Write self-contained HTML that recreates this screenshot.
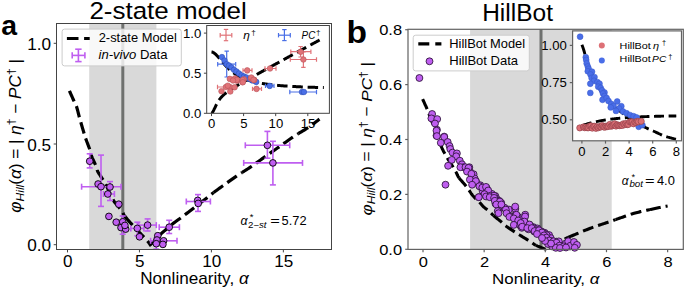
<!DOCTYPE html><html><head><meta charset="utf-8"><title>phi Hill vs nonlinearity</title><style>html,body{margin:0;padding:0;background:#fff;overflow:hidden}svg{display:block}text{font-family:"Liberation Sans", sans-serif;fill:#000}</style></head><body>
<svg width="685" height="289" viewBox="0 0 685 289">
<rect x="0" y="0" width="685" height="289" fill="#fff"/>
<rect x="89.2" y="23.5" width="67.2" height="226.0" fill="#d9d9d9"/>
<line x1="122.8" y1="23.5" x2="122.8" y2="249.5" stroke="#6f716f" stroke-width="3"/>
<path d="M69.4 90.8 L69.68 91.42 L70.04 92.24 L70.48 93.22 L70.96 94.31 L71.48 95.48 L72.01 96.68 L72.54 97.86 L73.04 98.99 L73.5 100.01 L73.9 100.9 L74.24 101.64 L74.55 102.27 L74.84 102.83 L75.1 103.34 L75.36 103.82 L75.6 104.3 L75.84 104.82 L76.08 105.39 L76.33 106.04 L76.6 106.8 L76.88 107.69 L77.17 108.69 L77.46 109.77 L77.76 110.91 L78.06 112.08 L78.35 113.25 L78.63 114.4 L78.9 115.49 L79.16 116.5 L79.4 117.4 L79.61 118.18 L79.8 118.85 L79.97 119.45 L80.13 119.99 L80.28 120.51 L80.43 121.02 L80.6 121.56 L80.77 122.16 L80.97 122.83 L81.2 123.6 L81.46 124.5 L81.76 125.5 L82.07 126.58 L82.4 127.72 L82.74 128.88 L83.08 130.03 L83.42 131.16 L83.74 132.23 L84.03 133.22 L84.3 134.1 L84.53 134.85 L84.73 135.49 L84.9 136.05 L85.06 136.55 L85.21 137.02 L85.36 137.49 L85.53 137.98 L85.72 138.53 L85.94 139.16 L86.2 139.9 L86.51 140.76 L86.87 141.72 L87.27 142.76 L87.68 143.85 L88.11 144.97 L88.54 146.09 L88.95 147.19 L89.34 148.24 L89.7 149.22 L90 150.1 L90.24 150.87 L90.43 151.55 L90.57 152.15 L90.69 152.71 L90.8 153.24 L90.91 153.78 L91.04 154.34 L91.21 154.95 L91.42 155.63 L91.7 156.4 L92.06 157.29 L92.48 158.29 L92.96 159.36 L93.47 160.48 L94 161.62 L94.53 162.76 L95.04 163.86 L95.52 164.9 L95.94 165.86 L96.3 166.7 L96.57 167.41 L96.76 168 L96.89 168.5 L96.98 168.94 L97.06 169.35 L97.15 169.76 L97.27 170.18 L97.43 170.67 L97.67 171.23 L98 171.9 L98.43 172.68 L98.96 173.56 L99.55 174.49 L100.19 175.48 L100.86 176.5 L101.54 177.53 L102.21 178.55 L102.86 179.55 L103.46 180.51 L104 181.4 L104.48 182.24 L104.94 183.04 L105.37 183.83 L105.77 184.59 L106.16 185.33 L106.54 186.07 L106.91 186.79 L107.27 187.52 L107.63 188.26 L108 189 L108.37 189.76 L108.72 190.52 L109.07 191.29 L109.42 192.06 L109.76 192.83 L110.09 193.58 L110.42 194.32 L110.75 195.04 L111.07 195.73 L111.4 196.4 L111.7 197.02 L111.97 197.59 L112.22 198.11 L112.46 198.62 L112.71 199.12 L112.98 199.62 L113.28 200.15 L113.62 200.71 L114.03 201.32 L114.5 202 L115.07 202.76 L115.74 203.59 L116.48 204.48 L117.28 205.41 L118.09 206.35 L118.91 207.29 L119.7 208.22 L120.45 209.11 L121.12 209.94 L121.7 210.7 L122.16 211.37 L122.53 211.97 L122.82 212.51 L123.07 213.02 L123.29 213.51 L123.51 213.99 L123.76 214.5 L124.06 215.04 L124.43 215.63 L124.9 216.3" fill="none" stroke="#000" stroke-width="3.2" stroke-dasharray="11.6 5.2"/>
<path d="M124.9 216.3 L125.48 217.05 L126.16 217.88 L126.9 218.77 L127.69 219.69 L128.51 220.63 L129.34 221.57 L130.15 222.48 L130.93 223.36 L131.65 224.17 L132.3 224.9 L132.86 225.54 L133.35 226.11 L133.8 226.61 L134.21 227.08 L134.6 227.53 L134.99 227.96 L135.4 228.41 L135.85 228.89 L136.34 229.41 L136.9 230 L137.54 230.66 L138.26 231.38 L139.02 232.14 L139.82 232.93 L140.64 233.73 L141.45 234.53 L142.24 235.31 L142.99 236.06 L143.69 236.76 L144.3 237.4 L144.85 237.98 L145.35 238.53 L145.82 239.05 L146.25 239.53 L146.64 239.99 L147.01 240.43 L147.36 240.85 L147.69 241.25 L148 241.63 L148.3 242 L148.58 242.36 L148.84 242.7 L149.08 243.03 L149.3 243.35 L149.5 243.64 L149.68 243.91 L149.84 244.15 L149.98 244.36 L150.1 244.55 L150.2 244.7 L150.48 244.46 L150.84 244.16 L151.26 243.81 L151.73 243.42 L152.24 242.99 L152.78 242.53 L153.34 242.05 L153.91 241.54 L154.46 241.02 L155 240.5 L155.54 239.95 L156.09 239.35 L156.66 238.71 L157.23 238.05 L157.82 237.38 L158.41 236.71 L158.99 236.04 L159.57 235.39 L160.14 234.77 L160.7 234.2 L161.24 233.67 L161.77 233.17 L162.29 232.69 L162.81 232.23 L163.32 231.79 L163.83 231.35 L164.36 230.9 L164.89 230.45 L165.44 229.99 L166 229.5 L166.57 229 L167.12 228.52 L167.66 228.03 L168.22 227.53 L168.79 227.03 L169.38 226.51 L170.01 225.98 L170.68 225.42 L171.41 224.83 L172.2 224.2 L173.04 223.55 L173.91 222.89 L174.82 222.22 L175.78 221.53 L176.77 220.81 L177.81 220.05 L178.9 219.26 L180.04 218.43 L181.24 217.54 L182.5 216.6 L183.84 215.59 L185.26 214.52 L186.76 213.38 L188.32 212.21 L189.91 210.99 L191.54 209.76 L193.17 208.51 L194.8 207.26 L196.42 206.02 L198 204.8 L199.59 203.57 L201.21 202.3 L202.86 201 L204.52 199.69 L206.17 198.39 L207.79 197.11 L209.37 195.86 L210.9 194.67 L212.34 193.54 L213.7 192.5" fill="none" stroke="#000" stroke-width="3.2" stroke-dasharray="11.6 5.2"/>
<path d="M213.7 192.5 L214.94 191.56 L216.06 190.71 L217.1 189.94 L218.08 189.22 L219.02 188.54 L219.95 187.87 L220.9 187.19 L221.89 186.48 L222.95 185.72 L224.1 184.9 L225.34 184.01 L226.64 183.08 L227.99 182.12 L229.37 181.14 L230.78 180.14 L232.21 179.13 L233.65 178.12 L235.08 177.13 L236.5 176.15 L237.9 175.2 L239.28 174.28 L240.66 173.38 L242.04 172.49" fill="none" stroke="#000" stroke-width="3.2" stroke-dasharray="11.6 5.2"/>
<path d="M242.04 172.49 L243.42 171.62 L244.81 170.74 L246.19 169.87 L247.58 168.98 L248.98 168.08 L250.39 167.15 L251.8 166.2 L253.23 165.21 L254.67 164.2 L256.12 163.16 L257.59 162.11 L259.05 161.04 L260.51 159.98 L261.98 158.91 L263.43 157.86 L264.87 156.82 L266.3 155.8 L267.72 154.8 L269.12 153.82 L270.52 152.84 L271.91 151.87 L273.3 150.91 L274.68 149.95 L276.06 148.99 L277.44 148.03 L278.82 147.07 L280.2 146.1 L281.57 145.13 L282.94 144.15 L284.3 143.17 L285.66 142.19 L287.01 141.21 L288.37 140.23 L289.74 139.26 L291.11 138.3 L292.5 137.34 L293.9 136.4 L295.33 135.47 L296.8 134.54 L298.3 133.63" fill="none" stroke="#000" stroke-width="3.2" stroke-dasharray="11.6 5.2"/>
<path d="M298.3 133.63 L299.81 132.72 L301.31 131.81 L302.81 130.92 L304.27 130.03 L305.7 129.14 L307.08 128.27 L308.4 127.4 L309.7 126.5 L311.02 125.56 L312.33 124.6 L313.62 123.63 L314.86 122.69 L316.02 121.79 L317.09 120.96 L318.04 120.22 L318.85 119.59 L319.5 119.1" fill="none" stroke="#000" stroke-width="3.2" stroke-dasharray="11.6 5.2"/>
<line x1="89.7" y1="153.8" x2="89.7" y2="167.9" stroke="#bf5ef0" stroke-width="1.6"/>
<line x1="86.7" y1="153.8" x2="92.7" y2="153.8" stroke="#bf5ef0" stroke-width="1.6"/>
<line x1="86.7" y1="167.9" x2="92.7" y2="167.9" stroke="#bf5ef0" stroke-width="1.6"/>
<line x1="81.6" y1="186.7" x2="121" y2="186.7" stroke="#bf5ef0" stroke-width="1.6"/>
<line x1="81.6" y1="183.7" x2="81.6" y2="189.7" stroke="#bf5ef0" stroke-width="1.6"/>
<line x1="121" y1="183.7" x2="121" y2="189.7" stroke="#bf5ef0" stroke-width="1.6"/>
<line x1="101" y1="155.1" x2="101" y2="206.4" stroke="#bf5ef0" stroke-width="1.6"/>
<line x1="98" y1="155.1" x2="104" y2="155.1" stroke="#bf5ef0" stroke-width="1.6"/>
<line x1="98" y1="206.4" x2="104" y2="206.4" stroke="#bf5ef0" stroke-width="1.6"/>
<line x1="110" y1="181.6" x2="110" y2="200.5" stroke="#bf5ef0" stroke-width="1.6"/>
<line x1="107" y1="181.6" x2="113" y2="181.6" stroke="#bf5ef0" stroke-width="1.6"/>
<line x1="107" y1="200.5" x2="113" y2="200.5" stroke="#bf5ef0" stroke-width="1.6"/>
<line x1="103.5" y1="194" x2="114.4" y2="194" stroke="#bf5ef0" stroke-width="1.6"/>
<line x1="103.5" y1="191" x2="103.5" y2="197" stroke="#bf5ef0" stroke-width="1.6"/>
<line x1="114.4" y1="191" x2="114.4" y2="197" stroke="#bf5ef0" stroke-width="1.6"/>
<line x1="122.7" y1="216" x2="122.7" y2="234.2" stroke="#bf5ef0" stroke-width="1.6"/>
<line x1="119.7" y1="216" x2="125.7" y2="216" stroke="#bf5ef0" stroke-width="1.6"/>
<line x1="119.7" y1="234.2" x2="125.7" y2="234.2" stroke="#bf5ef0" stroke-width="1.6"/>
<line x1="130.8" y1="228.4" x2="143.9" y2="228.4" stroke="#bf5ef0" stroke-width="1.6"/>
<line x1="130.8" y1="225.4" x2="130.8" y2="231.4" stroke="#bf5ef0" stroke-width="1.6"/>
<line x1="143.9" y1="225.4" x2="143.9" y2="231.4" stroke="#bf5ef0" stroke-width="1.6"/>
<line x1="137.3" y1="222.2" x2="137.3" y2="235.7" stroke="#bf5ef0" stroke-width="1.6"/>
<line x1="134.3" y1="222.2" x2="140.3" y2="222.2" stroke="#bf5ef0" stroke-width="1.6"/>
<line x1="134.3" y1="235.7" x2="140.3" y2="235.7" stroke="#bf5ef0" stroke-width="1.6"/>
<line x1="138.8" y1="225.1" x2="156.3" y2="225.1" stroke="#bf5ef0" stroke-width="1.6"/>
<line x1="138.8" y1="222.1" x2="138.8" y2="228.1" stroke="#bf5ef0" stroke-width="1.6"/>
<line x1="156.3" y1="222.1" x2="156.3" y2="228.1" stroke="#bf5ef0" stroke-width="1.6"/>
<line x1="147.6" y1="218.9" x2="147.6" y2="231" stroke="#bf5ef0" stroke-width="1.6"/>
<line x1="144.6" y1="218.9" x2="150.6" y2="218.9" stroke="#bf5ef0" stroke-width="1.6"/>
<line x1="144.6" y1="231" x2="150.6" y2="231" stroke="#bf5ef0" stroke-width="1.6"/>
<line x1="159.2" y1="227.2" x2="179.4" y2="227.2" stroke="#bf5ef0" stroke-width="1.6"/>
<line x1="159.2" y1="224.2" x2="159.2" y2="230.2" stroke="#bf5ef0" stroke-width="1.6"/>
<line x1="179.4" y1="224.2" x2="179.4" y2="230.2" stroke="#bf5ef0" stroke-width="1.6"/>
<line x1="169.2" y1="220.3" x2="169.2" y2="233.5" stroke="#bf5ef0" stroke-width="1.6"/>
<line x1="166.2" y1="220.3" x2="172.2" y2="220.3" stroke="#bf5ef0" stroke-width="1.6"/>
<line x1="166.2" y1="233.5" x2="172.2" y2="233.5" stroke="#bf5ef0" stroke-width="1.6"/>
<line x1="150.6" y1="240.8" x2="177" y2="240.8" stroke="#bf5ef0" stroke-width="1.6"/>
<line x1="150.6" y1="237.8" x2="150.6" y2="243.8" stroke="#bf5ef0" stroke-width="1.6"/>
<line x1="177" y1="237.8" x2="177" y2="243.8" stroke="#bf5ef0" stroke-width="1.6"/>
<line x1="156.3" y1="238" x2="156.3" y2="249.1" stroke="#bf5ef0" stroke-width="1.6"/>
<line x1="153.3" y1="238" x2="159.3" y2="238" stroke="#bf5ef0" stroke-width="1.6"/>
<line x1="153.3" y1="249.1" x2="159.3" y2="249.1" stroke="#bf5ef0" stroke-width="1.6"/>
<line x1="186.3" y1="201.5" x2="210.4" y2="201.5" stroke="#bf5ef0" stroke-width="1.6"/>
<line x1="186.3" y1="198.5" x2="186.3" y2="204.5" stroke="#bf5ef0" stroke-width="1.6"/>
<line x1="210.4" y1="198.5" x2="210.4" y2="204.5" stroke="#bf5ef0" stroke-width="1.6"/>
<line x1="198" y1="194.6" x2="198" y2="211.4" stroke="#bf5ef0" stroke-width="1.6"/>
<line x1="195" y1="194.6" x2="201" y2="194.6" stroke="#bf5ef0" stroke-width="1.6"/>
<line x1="195" y1="211.4" x2="201" y2="211.4" stroke="#bf5ef0" stroke-width="1.6"/>
<line x1="245.3" y1="145.3" x2="289.7" y2="145.3" stroke="#bf5ef0" stroke-width="1.6"/>
<line x1="245.3" y1="142.3" x2="245.3" y2="148.3" stroke="#bf5ef0" stroke-width="1.6"/>
<line x1="289.7" y1="142.3" x2="289.7" y2="148.3" stroke="#bf5ef0" stroke-width="1.6"/>
<line x1="267.4" y1="131.4" x2="267.4" y2="158.2" stroke="#bf5ef0" stroke-width="1.6"/>
<line x1="264.4" y1="131.4" x2="270.4" y2="131.4" stroke="#bf5ef0" stroke-width="1.6"/>
<line x1="264.4" y1="158.2" x2="270.4" y2="158.2" stroke="#bf5ef0" stroke-width="1.6"/>
<line x1="243.7" y1="162.9" x2="302.5" y2="162.9" stroke="#bf5ef0" stroke-width="1.6"/>
<line x1="243.7" y1="159.9" x2="243.7" y2="165.9" stroke="#bf5ef0" stroke-width="1.6"/>
<line x1="302.5" y1="159.9" x2="302.5" y2="165.9" stroke="#bf5ef0" stroke-width="1.6"/>
<line x1="272.9" y1="141.3" x2="272.9" y2="184.9" stroke="#bf5ef0" stroke-width="1.6"/>
<line x1="269.9" y1="141.3" x2="275.9" y2="141.3" stroke="#bf5ef0" stroke-width="1.6"/>
<line x1="269.9" y1="184.9" x2="275.9" y2="184.9" stroke="#bf5ef0" stroke-width="1.6"/>
<circle cx="89.7" cy="161.2" r="3.35" fill="#bf5ef0" stroke="#000" stroke-width="0.9"/>
<circle cx="98.1" cy="184" r="3.35" fill="#bf5ef0" stroke="#000" stroke-width="0.9"/>
<circle cx="101" cy="186.7" r="3.35" fill="#bf5ef0" stroke="#000" stroke-width="0.9"/>
<circle cx="110" cy="187" r="3.35" fill="#bf5ef0" stroke="#000" stroke-width="0.9"/>
<circle cx="107.8" cy="194" r="3.35" fill="#bf5ef0" stroke="#000" stroke-width="0.9"/>
<circle cx="118.8" cy="204.2" r="3.35" fill="#bf5ef0" stroke="#000" stroke-width="0.9"/>
<circle cx="108.9" cy="216.4" r="3.35" fill="#bf5ef0" stroke="#000" stroke-width="0.9"/>
<circle cx="116.2" cy="222.2" r="3.35" fill="#bf5ef0" stroke="#000" stroke-width="0.9"/>
<circle cx="122.7" cy="221.8" r="3.35" fill="#bf5ef0" stroke="#000" stroke-width="0.9"/>
<circle cx="121" cy="227.6" r="3.35" fill="#bf5ef0" stroke="#000" stroke-width="0.9"/>
<circle cx="125.7" cy="229.1" r="3.35" fill="#bf5ef0" stroke="#000" stroke-width="0.9"/>
<circle cx="124.9" cy="225.4" r="3.35" fill="#bf5ef0" stroke="#000" stroke-width="0.9"/>
<circle cx="137.3" cy="228.4" r="3.35" fill="#bf5ef0" stroke="#000" stroke-width="0.9"/>
<circle cx="139.5" cy="236.8" r="3.35" fill="#bf5ef0" stroke="#000" stroke-width="0.9"/>
<circle cx="147.6" cy="225.1" r="3.35" fill="#bf5ef0" stroke="#000" stroke-width="0.9"/>
<circle cx="169.2" cy="227.2" r="3.35" fill="#bf5ef0" stroke="#000" stroke-width="0.9"/>
<circle cx="157.8" cy="235.7" r="3.35" fill="#bf5ef0" stroke="#000" stroke-width="0.9"/>
<circle cx="157" cy="240" r="3.35" fill="#bf5ef0" stroke="#000" stroke-width="0.9"/>
<circle cx="163.6" cy="240.8" r="3.35" fill="#bf5ef0" stroke="#000" stroke-width="0.9"/>
<circle cx="156.3" cy="243.7" r="3.35" fill="#bf5ef0" stroke="#000" stroke-width="0.9"/>
<circle cx="162.9" cy="244.4" r="3.35" fill="#bf5ef0" stroke="#000" stroke-width="0.9"/>
<circle cx="197.7" cy="200.4" r="3.35" fill="#bf5ef0" stroke="#000" stroke-width="0.9"/>
<circle cx="198.2" cy="203.4" r="3.35" fill="#bf5ef0" stroke="#000" stroke-width="0.9"/>
<circle cx="267.4" cy="145.3" r="3.35" fill="#bf5ef0" stroke="#000" stroke-width="0.9"/>
<circle cx="272.9" cy="162.9" r="3.35" fill="#bf5ef0" stroke="#000" stroke-width="0.9"/>
<rect x="56.5" y="23.5" width="275" height="226" fill="none" stroke="#444444" stroke-width="1"/>
<line x1="53.7" y1="244.7" x2="56.5" y2="244.7" stroke="#444444" stroke-width="1"/>
<text x="51.1" y="251.2" font-size="15.87" textLength="23.9" lengthAdjust="spacingAndGlyphs" text-anchor="end">0.0</text>
<line x1="53.7" y1="144" x2="56.5" y2="144" stroke="#444444" stroke-width="1"/>
<text x="51.1" y="150.5" font-size="15.87" textLength="23.9" lengthAdjust="spacingAndGlyphs" text-anchor="end">0.5</text>
<line x1="53.7" y1="43.3" x2="56.5" y2="43.3" stroke="#444444" stroke-width="1"/>
<text x="51.1" y="49.8" font-size="15.87" textLength="23.9" lengthAdjust="spacingAndGlyphs" text-anchor="end">1.0</text>
<line x1="67.5" y1="249.5" x2="67.5" y2="252.4" stroke="#444444" stroke-width="1"/>
<text x="67.8" y="267.2" font-size="15.87" textLength="9.5" lengthAdjust="spacingAndGlyphs" text-anchor="middle">0</text>
<line x1="139.45" y1="249.5" x2="139.45" y2="252.4" stroke="#444444" stroke-width="1"/>
<text x="139.75" y="267.2" font-size="15.87" textLength="9.5" lengthAdjust="spacingAndGlyphs" text-anchor="middle">5</text>
<line x1="211.4" y1="249.5" x2="211.4" y2="252.4" stroke="#444444" stroke-width="1"/>
<text x="211.7" y="267.2" font-size="15.87" textLength="19" lengthAdjust="spacingAndGlyphs" text-anchor="middle">10</text>
<line x1="283.35" y1="249.5" x2="283.35" y2="252.4" stroke="#444444" stroke-width="1"/>
<text x="283.65" y="267.2" font-size="15.87" textLength="19" lengthAdjust="spacingAndGlyphs" text-anchor="middle">15</text>
<text x="140.2" y="284" font-size="16.19" textLength="108.5" lengthAdjust="spacingAndGlyphs">Nonlinearity, <tspan font-style="italic">α</tspan></text>
<text x="89.4" y="18.6" font-size="24.07" textLength="157.3" lengthAdjust="spacingAndGlyphs">2-state model</text>
<text x="1.2" y="35.2" font-size="28.4" font-weight="bold">a</text>
<g transform="translate(20.5,135.9) rotate(-90)">
<text x="0" y="0" font-size="16.19" textLength="153.5" lengthAdjust="spacingAndGlyphs" text-anchor="middle"><tspan font-style="italic">φ</tspan><tspan font-size="11.33" dy="3.04" font-style="italic">Hill</tspan><tspan dy="-3.04">(</tspan><tspan font-style="italic">α</tspan>) = | <tspan font-style="italic">η</tspan><tspan font-size="11.33" dy="-5.02">†</tspan><tspan dy="5.02"> − </tspan><tspan font-style="italic">PC</tspan><tspan font-size="11.33" dy="-5.02">†</tspan><tspan dy="5.02"> |</tspan></text>
</g>
<text x="240.4" y="224.7" font-size="12.35" font-style="italic">α</text>
<text x="249.8" y="219.6" font-size="9.58">*</text>
<text x="247.9" y="227.6" font-size="8.63" textLength="18.6" lengthAdjust="spacingAndGlyphs">2−<tspan font-style="italic">st</tspan></text>
<text x="270.2" y="224.7" font-size="12.35" textLength="9.6" lengthAdjust="spacingAndGlyphs">=</text>
<text x="281.6" y="224.7" font-size="12.35" textLength="25" lengthAdjust="spacingAndGlyphs">5.72</text>
<rect x="62.1" y="29.1" width="119.2" height="36.8" rx="2.5" fill="#fff" fill-opacity="0.8" stroke="#cccccc" stroke-width="1"/>
<path d="M66.9 38.5 L89.7 38.5" fill="none" stroke="#000" stroke-width="3.2" stroke-dasharray="11.6 5.6"/>
<line x1="72.2" y1="55.4" x2="84.9" y2="55.4" stroke="#bf5ef0" stroke-width="1.6"/>
<line x1="72.2" y1="52.2" x2="72.2" y2="58.6" stroke="#bf5ef0" stroke-width="1.6"/>
<line x1="84.9" y1="52.2" x2="84.9" y2="58.6" stroke="#bf5ef0" stroke-width="1.6"/>
<line x1="78.4" y1="49.2" x2="78.4" y2="61.6" stroke="#bf5ef0" stroke-width="1.6"/>
<line x1="75.2" y1="49.2" x2="81.6" y2="49.2" stroke="#bf5ef0" stroke-width="1.6"/>
<line x1="75.2" y1="61.6" x2="81.6" y2="61.6" stroke="#bf5ef0" stroke-width="1.6"/>
<text x="98.7" y="42.1" font-size="12.19" textLength="78.1" lengthAdjust="spacingAndGlyphs">2-state Model</text>
<text x="98.5" y="58.5" font-size="12.19" textLength="69" lengthAdjust="spacingAndGlyphs"><tspan font-style="italic">in-vivo</tspan> Data</text>
<rect x="206.7" y="25.5" width="122.7" height="87.8" fill="#fff"/>
<clipPath id="cia"><rect x="206.7" y="25.5" width="122.7" height="87.8"/></clipPath>
<g clip-path="url(#cia)">
<path d="M211.5 113.3 L212.06 112.86 L212.63 112.15 L213.19 111.24 L213.76 110.16 L214.32 108.98 L214.89 107.76 L215.45 106.55 L216.02 105.36 L216.58 104.24 L217.15 103.17 L217.71 102.18 L218.27 101.25 L218.84 100.39 L219.4 99.59 L219.97 98.84 L220.53 98.14 L221.1 97.48 L221.66 96.86 L222.23 96.27 L222.79 95.71 L223.36 95.18 L223.92 94.67 L224.49 94.18 L225.05 93.71 L225.61 93.25 L226.18 92.81 L226.74 92.38 L227.31 91.96 L227.87 91.55 L228.44 91.14 L229 90.75 L229.57 90.36 L230.13 89.98 L230.7 89.61 L231.26 89.24 L231.82 88.87 L232.39 88.51 L232.95 88.16 L233.52 87.8 L234.08 87.45 L234.65 87.1 L235.21 86.76 L235.78 86.42 L236.34 86.07 L236.91 85.74 L237.47 85.4 L238.03 85.06 L238.6 84.73 L239.16 84.4 L239.73 84.07 L240.29 83.74 L240.86 83.41 L241.42 83.09 L241.99 82.76 L242.55 82.43 L243.12 82.11 L243.68 81.79 L244.25 81.46 L244.81 81.14 L245.37 80.82 L245.94 80.5 L246.5 80.18 L247.07 79.86 L247.63 79.54 L248.2 79.23 L248.76 78.91 L249.33 78.59 L249.89 78.27 L250.46 77.96 L251.02 77.64 L251.58 77.33 L252.15 77.01 L252.71 76.69 L253.28 76.38 L253.84 76.07 L254.41 75.75 L254.97 75.44 L255.54 75.12 L256.1 74.81 L256.67 74.5 L257.23 74.18 L257.79 73.87 L258.36 73.56 L258.92 73.25 L259.49 72.93 L260.05 72.62 L260.62 72.31 L261.18 72 L261.75 71.68 L262.31 71.37 L262.88 71.06 L263.44 70.75 L264.01 70.44 L264.57 70.13 L265.13 69.82 L265.7 69.51 L266.26 69.2 L266.83 68.88 L267.39 68.57 L267.96 68.26 L268.52 67.95 L269.09 67.64 L269.65 67.33 L270.22 67.02 L270.78 66.71 L271.34 66.4 L271.91 66.09 L272.47 65.78 L273.04 65.47 L273.6 65.16 L274.17 64.85 L274.73 64.54 L275.3 64.23 L275.86 63.92 L276.43 63.61 L276.99 63.31 L277.56 63 L278.12 62.69 L278.68 62.38 L279.25 62.07 L279.81 61.76 L280.38 61.45 L280.94 61.14 L281.51 60.83 L282.07 60.52 L282.64 60.21 L283.2 59.9 L283.77 59.6 L284.33 59.29 L284.89 58.98 L285.46 58.67 L286.02 58.36 L286.59 58.05 L287.15 57.74 L287.72 57.43 L288.28 57.13 L288.85 56.82 L289.41 56.51 L289.98 56.2 L290.54 55.89 L291.1 55.58 L291.67 55.27 L292.23 54.96 L292.8 54.66 L293.36 54.35 L293.93 54.04 L294.49 53.73 L295.06 53.42 L295.62 53.11 L296.19 52.81 L296.75 52.5 L297.32 52.19 L297.88 51.88 L298.44 51.57 L299.01 51.26 L299.57 50.96 L300.14 50.65 L300.7 50.34 L301.27 50.03 L301.83 49.72 L302.4 49.41 L302.96 49.11 L303.53 48.8 L304.09 48.49 L304.65 48.18 L305.22 47.87 L305.78 47.57 L306.35 47.26 L306.91 46.95 L307.48 46.64 L308.04 46.33 L308.61 46.02 L309.17 45.72 L309.74 45.41 L310.3 45.1 L310.86 44.79 L311.43 44.48 L311.99 44.18 L312.56 43.87 L313.12 43.56 L313.69 43.25 L314.25 42.94 L314.82 42.64 L315.38 42.33 L315.95 42.02 L316.51 41.71 L317.08 41.4 L317.64 41.1 L318.2 40.79 L318.77 40.48 L319.33 40.17 L319.9 39.86 L320.46 39.56 L321.03 39.25 L321.59 38.94 L322.16 38.63 L322.72 38.33 L323.29 38.02 L323.85 37.71" fill="none" stroke="#000" stroke-width="3" stroke-dasharray="10.5 4.8"/>
<path d="M211.5 51.95 L212.06 52.02 L212.63 52.21 L213.19 52.47 L213.76 52.8 L214.32 53.2 L214.89 53.65 L215.45 54.14 L216.02 54.68 L216.58 55.25 L217.15 55.85 L217.71 56.47 L218.27 57.11 L218.84 57.76 L219.4 58.43 L219.97 59.1 L220.53 59.78 L221.1 60.45 L221.66 61.13 L222.23 61.8 L222.79 62.46 L223.36 63.12 L223.92 63.77 L224.49 64.41 L225.05 65.03 L225.61 65.64 L226.18 66.24 L226.74 66.83 L227.31 67.4 L227.87 67.96 L228.44 68.51 L229 69.04 L229.57 69.55 L230.13 70.05 L230.7 70.54 L231.26 71.01 L231.82 71.47 L232.39 71.92 L232.95 72.35 L233.52 72.77 L234.08 73.17 L234.65 73.57 L235.21 73.95 L235.78 74.32 L236.34 74.68 L236.91 75.03 L237.47 75.36 L238.03 75.69 L238.6 76 L239.16 76.31 L239.73 76.61 L240.29 76.9 L240.86 77.18 L241.42 77.45 L241.99 77.71 L242.55 77.96 L243.12 78.21 L243.68 78.45 L244.25 78.68 L244.81 78.9 L245.37 79.12 L245.94 79.33 L246.5 79.54 L247.07 79.74 L247.63 79.93 L248.2 80.12 L248.76 80.3 L249.33 80.48 L249.89 80.65 L250.46 80.82 L251.02 80.99 L251.58 81.14 L252.15 81.3 L252.71 81.45 L253.28 81.59 L253.84 81.74 L254.41 81.87 L254.97 82.01 L255.54 82.14 L256.1 82.27 L256.67 82.39 L257.23 82.51 L257.79 82.63 L258.36 82.74 L258.92 82.85 L259.49 82.96 L260.05 83.07 L260.62 83.17 L261.18 83.27 L261.75 83.37 L262.31 83.47 L262.88 83.56 L263.44 83.65 L264.01 83.74 L264.57 83.83 L265.13 83.91 L265.7 84 L266.26 84.08 L266.83 84.16 L267.39 84.24 L267.96 84.31 L268.52 84.39 L269.09 84.46 L269.65 84.53 L270.22 84.6 L270.78 84.67 L271.34 84.73 L271.91 84.8 L272.47 84.86 L273.04 84.92 L273.6 84.98 L274.17 85.04 L274.73 85.1 L275.3 85.16 L275.86 85.21 L276.43 85.27 L276.99 85.32 L277.56 85.37 L278.12 85.42 L278.68 85.47 L279.25 85.52 L279.81 85.57 L280.38 85.62 L280.94 85.67 L281.51 85.71 L282.07 85.76 L282.64 85.8 L283.2 85.84 L283.77 85.88 L284.33 85.93 L284.89 85.97 L285.46 86.01 L286.02 86.05 L286.59 86.08 L287.15 86.12 L287.72 86.16 L288.28 86.2 L288.85 86.23 L289.41 86.27 L289.98 86.3 L290.54 86.33 L291.1 86.37 L291.67 86.4 L292.23 86.43 L292.8 86.46 L293.36 86.49 L293.93 86.52 L294.49 86.55 L295.06 86.58 L295.62 86.61 L296.19 86.64 L296.75 86.67 L297.32 86.7 L297.88 86.72 L298.44 86.75 L299.01 86.78 L299.57 86.8 L300.14 86.83 L300.7 86.85 L301.27 86.88 L301.83 86.9 L302.4 86.93 L302.96 86.95 L303.53 86.97 L304.09 86.99 L304.65 87.02 L305.22 87.04 L305.78 87.06 L306.35 87.08 L306.91 87.1 L307.48 87.12 L308.04 87.14 L308.61 87.16 L309.17 87.18 L309.74 87.2 L310.3 87.22 L310.86 87.24 L311.43 87.26 L311.99 87.28 L312.56 87.3 L313.12 87.31 L313.69 87.33 L314.25 87.35 L314.82 87.37 L315.38 87.38 L315.95 87.4 L316.51 87.42 L317.08 87.43 L317.64 87.45 L318.2 87.46 L318.77 87.48 L319.33 87.5 L319.9 87.51 L320.46 87.53 L321.03 87.54 L321.59 87.55 L322.16 87.57 L322.72 87.58 L323.29 87.6 L323.85 87.61" fill="none" stroke="#000" stroke-width="3" stroke-dasharray="10.5 4.8"/>
<line x1="217.7" y1="64.2" x2="235.7" y2="64.2" stroke="#4a6fe6" stroke-width="1.2"/>
<line x1="217.7" y1="62" x2="217.7" y2="66.4" stroke="#4a6fe6" stroke-width="1.2"/>
<line x1="235.7" y1="62" x2="235.7" y2="66.4" stroke="#4a6fe6" stroke-width="1.2"/>
<line x1="226.7" y1="51.1" x2="226.7" y2="77" stroke="#4a6fe6" stroke-width="1.2"/>
<line x1="224.5" y1="51.1" x2="228.9" y2="51.1" stroke="#4a6fe6" stroke-width="1.2"/>
<line x1="224.5" y1="77" x2="228.9" y2="77" stroke="#4a6fe6" stroke-width="1.2"/>
<line x1="265.5" y1="85.9" x2="274" y2="85.9" stroke="#4a6fe6" stroke-width="1.2"/>
<line x1="265.5" y1="83.7" x2="265.5" y2="88.1" stroke="#4a6fe6" stroke-width="1.2"/>
<line x1="274" y1="83.7" x2="274" y2="88.1" stroke="#4a6fe6" stroke-width="1.2"/>
<line x1="289.8" y1="92" x2="316.5" y2="92" stroke="#4a6fe6" stroke-width="1.2"/>
<line x1="289.8" y1="89.8" x2="289.8" y2="94.2" stroke="#4a6fe6" stroke-width="1.2"/>
<line x1="316.5" y1="89.8" x2="316.5" y2="94.2" stroke="#4a6fe6" stroke-width="1.2"/>
<circle cx="221.9" cy="57.1" r="2.8" fill="#4a6fe6" stroke="#2f4fb8" stroke-width="0.6"/>
<circle cx="224.5" cy="60.5" r="2.8" fill="#4a6fe6" stroke="#2f4fb8" stroke-width="0.6"/>
<circle cx="226.7" cy="64.2" r="2.8" fill="#4a6fe6" stroke="#2f4fb8" stroke-width="0.6"/>
<circle cx="229" cy="65.5" r="2.8" fill="#4a6fe6" stroke="#2f4fb8" stroke-width="0.6"/>
<circle cx="231.5" cy="67.5" r="2.8" fill="#4a6fe6" stroke="#2f4fb8" stroke-width="0.6"/>
<circle cx="234" cy="69.8" r="2.8" fill="#4a6fe6" stroke="#2f4fb8" stroke-width="0.6"/>
<circle cx="236.5" cy="71.5" r="2.8" fill="#4a6fe6" stroke="#2f4fb8" stroke-width="0.6"/>
<circle cx="239" cy="73.5" r="2.8" fill="#4a6fe6" stroke="#2f4fb8" stroke-width="0.6"/>
<circle cx="241.6" cy="75.3" r="2.8" fill="#4a6fe6" stroke="#2f4fb8" stroke-width="0.6"/>
<circle cx="244" cy="76.5" r="2.8" fill="#4a6fe6" stroke="#2f4fb8" stroke-width="0.6"/>
<circle cx="246.4" cy="77.5" r="2.8" fill="#4a6fe6" stroke="#2f4fb8" stroke-width="0.6"/>
<circle cx="249.5" cy="79" r="2.8" fill="#4a6fe6" stroke="#2f4fb8" stroke-width="0.6"/>
<circle cx="252.3" cy="80.4" r="2.8" fill="#4a6fe6" stroke="#2f4fb8" stroke-width="0.6"/>
<circle cx="256.2" cy="81.9" r="2.8" fill="#4a6fe6" stroke="#2f4fb8" stroke-width="0.6"/>
<circle cx="269.7" cy="85.9" r="2.8" fill="#4a6fe6" stroke="#2f4fb8" stroke-width="0.6"/>
<circle cx="302" cy="92" r="2.8" fill="#4a6fe6" stroke="#2f4fb8" stroke-width="0.6"/>
<circle cx="303.9" cy="92" r="2.8" fill="#4a6fe6" stroke="#2f4fb8" stroke-width="0.6"/>
<line x1="252.5" y1="88.9" x2="261.5" y2="88.9" stroke="#e07378" stroke-width="1.2"/>
<line x1="252.5" y1="86.7" x2="252.5" y2="91.1" stroke="#e07378" stroke-width="1.2"/>
<line x1="261.5" y1="86.7" x2="261.5" y2="91.1" stroke="#e07378" stroke-width="1.2"/>
<line x1="243" y1="70.4" x2="252" y2="70.4" stroke="#e07378" stroke-width="1.2"/>
<line x1="243" y1="68.2" x2="243" y2="72.6" stroke="#e07378" stroke-width="1.2"/>
<line x1="252" y1="68.2" x2="252" y2="72.6" stroke="#e07378" stroke-width="1.2"/>
<line x1="265" y1="68.5" x2="276" y2="68.5" stroke="#e07378" stroke-width="1.2"/>
<line x1="265" y1="66.3" x2="265" y2="70.7" stroke="#e07378" stroke-width="1.2"/>
<line x1="276" y1="66.3" x2="276" y2="70.7" stroke="#e07378" stroke-width="1.2"/>
<line x1="290.8" y1="51.7" x2="310.9" y2="51.7" stroke="#e07378" stroke-width="1.2"/>
<line x1="290.8" y1="49.5" x2="290.8" y2="53.9" stroke="#e07378" stroke-width="1.2"/>
<line x1="310.9" y1="49.5" x2="310.9" y2="53.9" stroke="#e07378" stroke-width="1.2"/>
<line x1="300.6" y1="46.5" x2="300.6" y2="57" stroke="#e07378" stroke-width="1.2"/>
<line x1="298.4" y1="46.5" x2="302.8" y2="46.5" stroke="#e07378" stroke-width="1.2"/>
<line x1="298.4" y1="57" x2="302.8" y2="57" stroke="#e07378" stroke-width="1.2"/>
<line x1="290.3" y1="59.5" x2="316.5" y2="59.5" stroke="#e07378" stroke-width="1.2"/>
<line x1="290.3" y1="57.3" x2="290.3" y2="61.7" stroke="#e07378" stroke-width="1.2"/>
<line x1="316.5" y1="57.3" x2="316.5" y2="61.7" stroke="#e07378" stroke-width="1.2"/>
<line x1="303.4" y1="52" x2="303.4" y2="67.4" stroke="#e07378" stroke-width="1.2"/>
<line x1="301.2" y1="52" x2="305.6" y2="52" stroke="#e07378" stroke-width="1.2"/>
<line x1="301.2" y1="67.4" x2="305.6" y2="67.4" stroke="#e07378" stroke-width="1.2"/>
<line x1="217.5" y1="87" x2="225.5" y2="87" stroke="#e07378" stroke-width="1.2"/>
<line x1="217.5" y1="84.8" x2="217.5" y2="89.2" stroke="#e07378" stroke-width="1.2"/>
<line x1="225.5" y1="84.8" x2="225.5" y2="89.2" stroke="#e07378" stroke-width="1.2"/>
<circle cx="221.5" cy="91.2" r="2.8" fill="#e07378" stroke="#b8545a" stroke-width="0.6"/>
<circle cx="225.9" cy="87" r="2.8" fill="#e07378" stroke="#b8545a" stroke-width="0.6"/>
<circle cx="229.8" cy="87" r="2.8" fill="#e07378" stroke="#b8545a" stroke-width="0.6"/>
<circle cx="234.6" cy="87.3" r="2.8" fill="#e07378" stroke="#b8545a" stroke-width="0.6"/>
<circle cx="230.3" cy="91.5" r="2.8" fill="#e07378" stroke="#b8545a" stroke-width="0.6"/>
<circle cx="256.5" cy="88.9" r="2.8" fill="#e07378" stroke="#b8545a" stroke-width="0.6"/>
<circle cx="229.8" cy="78.9" r="2.8" fill="#e07378" stroke="#b8545a" stroke-width="0.6"/>
<circle cx="235" cy="78.4" r="2.8" fill="#e07378" stroke="#b8545a" stroke-width="0.6"/>
<circle cx="236.8" cy="80.7" r="2.8" fill="#e07378" stroke="#b8545a" stroke-width="0.6"/>
<circle cx="242.4" cy="82.1" r="2.8" fill="#e07378" stroke="#b8545a" stroke-width="0.6"/>
<circle cx="243.9" cy="79.3" r="2.8" fill="#e07378" stroke="#b8545a" stroke-width="0.6"/>
<circle cx="250.9" cy="78.4" r="2.8" fill="#e07378" stroke="#b8545a" stroke-width="0.6"/>
<circle cx="254.1" cy="79.8" r="2.8" fill="#e07378" stroke="#b8545a" stroke-width="0.6"/>
<circle cx="227.8" cy="85.7" r="2.8" fill="#e07378" stroke="#b8545a" stroke-width="0.6"/>
<circle cx="237" cy="79.8" r="2.8" fill="#e07378" stroke="#b8545a" stroke-width="0.6"/>
<circle cx="242.6" cy="80" r="2.8" fill="#e07378" stroke="#b8545a" stroke-width="0.6"/>
<circle cx="251.3" cy="77.5" r="2.8" fill="#e07378" stroke="#b8545a" stroke-width="0.6"/>
<circle cx="254.2" cy="80" r="2.8" fill="#e07378" stroke="#b8545a" stroke-width="0.6"/>
<circle cx="253.5" cy="79.8" r="2.8" fill="#e07378" stroke="#b8545a" stroke-width="0.6"/>
<circle cx="247.2" cy="70.4" r="2.8" fill="#e07378" stroke="#b8545a" stroke-width="0.6"/>
<circle cx="270" cy="68.5" r="2.8" fill="#e07378" stroke="#b8545a" stroke-width="0.6"/>
<circle cx="300.6" cy="51.7" r="2.8" fill="#e07378" stroke="#b8545a" stroke-width="0.6"/>
<circle cx="303.4" cy="59.5" r="2.8" fill="#e07378" stroke="#b8545a" stroke-width="0.6"/>
<circle cx="242.8" cy="82.3" r="2.8" fill="#e07378" stroke="#b8545a" stroke-width="0.6"/>
<circle cx="233" cy="80.5" r="2.8" fill="#e07378" stroke="#b8545a" stroke-width="0.6"/>
</g>
<rect x="206.7" y="25.5" width="122.7" height="87.8" fill="none" stroke="#444444" stroke-width="1"/>
<line x1="203.9" y1="113.3" x2="206.7" y2="113.3" stroke="#444444" stroke-width="1"/>
<text x="201.3" y="117.9" font-size="12.25" textLength="18.3" lengthAdjust="spacingAndGlyphs" text-anchor="end">0.0</text>
<line x1="203.9" y1="73.2" x2="206.7" y2="73.2" stroke="#444444" stroke-width="1"/>
<text x="201.3" y="77.8" font-size="12.25" textLength="18.3" lengthAdjust="spacingAndGlyphs" text-anchor="end">0.5</text>
<line x1="203.9" y1="33.1" x2="206.7" y2="33.1" stroke="#444444" stroke-width="1"/>
<text x="201.3" y="37.7" font-size="12.25" textLength="18.3" lengthAdjust="spacingAndGlyphs" text-anchor="end">1.0</text>
<line x1="211.5" y1="113.3" x2="211.5" y2="116.1" stroke="#444444" stroke-width="1"/>
<text x="211.7" y="127.6" font-size="12.25" textLength="7.31" lengthAdjust="spacingAndGlyphs" text-anchor="middle">0</text>
<line x1="243.6" y1="113.3" x2="243.6" y2="116.1" stroke="#444444" stroke-width="1"/>
<text x="243.8" y="127.6" font-size="12.25" textLength="7.31" lengthAdjust="spacingAndGlyphs" text-anchor="middle">5</text>
<line x1="275.7" y1="113.3" x2="275.7" y2="116.1" stroke="#444444" stroke-width="1"/>
<text x="275.9" y="127.6" font-size="12.25" textLength="14.62" lengthAdjust="spacingAndGlyphs" text-anchor="middle">10</text>
<line x1="307.8" y1="113.3" x2="307.8" y2="116.1" stroke="#444444" stroke-width="1"/>
<text x="308" y="127.6" font-size="12.25" textLength="14.62" lengthAdjust="spacingAndGlyphs" text-anchor="middle">15</text>
<line x1="220.2" y1="35.2" x2="231.8" y2="35.2" stroke="#e07378" stroke-width="1.2"/>
<line x1="220.2" y1="33" x2="220.2" y2="37.4" stroke="#e07378" stroke-width="1.2"/>
<line x1="231.8" y1="33" x2="231.8" y2="37.4" stroke="#e07378" stroke-width="1.2"/>
<line x1="226" y1="29.4" x2="226" y2="40.7" stroke="#e07378" stroke-width="1.2"/>
<line x1="223.8" y1="29.4" x2="228.2" y2="29.4" stroke="#e07378" stroke-width="1.2"/>
<line x1="223.8" y1="40.7" x2="228.2" y2="40.7" stroke="#e07378" stroke-width="1.2"/>
<line x1="278.5" y1="35.2" x2="290.3" y2="35.2" stroke="#4a6fe6" stroke-width="1.2"/>
<line x1="278.5" y1="33" x2="278.5" y2="37.4" stroke="#4a6fe6" stroke-width="1.2"/>
<line x1="290.3" y1="33" x2="290.3" y2="37.4" stroke="#4a6fe6" stroke-width="1.2"/>
<line x1="284.4" y1="29.6" x2="284.4" y2="40.6" stroke="#4a6fe6" stroke-width="1.2"/>
<line x1="282.2" y1="29.6" x2="286.6" y2="29.6" stroke="#4a6fe6" stroke-width="1.2"/>
<line x1="282.2" y1="40.6" x2="286.6" y2="40.6" stroke="#4a6fe6" stroke-width="1.2"/>
<text x="243.3" y="38.7" font-size="11.18" textLength="6.65" lengthAdjust="spacingAndGlyphs" font-style="italic">η</text>
<text x="251.3" y="35.4" font-size="8.09">†</text>
<text x="301.6" y="38.7" font-size="11.18" textLength="13.66" lengthAdjust="spacingAndGlyphs" font-style="italic">PC</text>
<text x="316" y="35.4" font-size="8.09">†</text>
<rect x="470.1" y="29.3" width="141.6" height="220.1" fill="#d9d9d9"/>
<line x1="541" y1="29.3" x2="541" y2="249.4" stroke="#6f716f" stroke-width="3"/>
<path d="M422.6 99.1 L422.88 99.72 L423.24 100.5 L423.66 101.42 L424.14 102.45 L424.66 103.57 L425.19 104.76 L425.74 105.98 L426.28 107.21 L426.81 108.43 L427.3 109.6 L427.77 110.76 L428.24 111.96 L428.7 113.18 L429.17 114.42 L429.63 115.67 L430.1 116.94 L430.57 118.21 L431.04 119.48 L431.52 120.75 L432 122 L432.49 123.25 L432.99 124.49 L433.49 125.74 L434 126.98 L434.51 128.23 L435.01 129.48 L435.52 130.73 L436.02 131.99 L436.51 133.24 L437 134.5 L437.47 135.77 L437.94 137.07 L438.39 138.39 L438.84 139.7 L439.29 141.02 L439.74 142.32 L440.2 143.6 L440.65 144.84 L441.12 146.05 L441.6 147.2 L442.09 148.31 L442.59 149.37 L443.09 150.41 L443.6 151.42 L444.12 152.39 L444.64 153.35 L445.15 154.28 L445.67 155.2 L446.19 156.11 L446.7 157 L447.21 157.88 L447.73 158.73 L448.26 159.55 L448.78 160.36 L449.3 161.16 L449.82 161.94 L450.33 162.71 L450.83 163.47 L451.32 164.24 L451.8 165 L452.27 165.77 L452.73 166.53 L453.19 167.3 L453.64 168.06 L454.09 168.81 L454.52 169.54 L454.94 170.26 L455.34 170.97 L455.73 171.65 L456.1 172.3 L456.43 172.91 L456.71 173.48 L456.96 174.02 L457.19 174.53 L457.41 175.03 L457.65 175.54 L457.91 176.05 L458.21 176.59 L458.57 177.17 L459 177.8" fill="none" stroke="#000" stroke-width="3.1" stroke-dasharray="11 5"/>
<path d="M459 177.8 L459.52 178.49 L460.11 179.23 L460.77 180 L461.48 180.81 L462.2 181.63 L462.93 182.44 L463.64 183.24 L464.32 184.01 L464.95 184.73 L465.5 185.4 L465.98 186.01 L466.42 186.58 L466.82 187.11 L467.18 187.62 L467.53 188.1 L467.85 188.57 L468.18 189.04 L468.5 189.51 L468.84 190 L469.2 190.5 L469.56 191.01 L469.9 191.51 L470.22 192.01 L470.55 192.51 L470.87 193.01 L471.22 193.52 L471.58 194.04 L471.98 194.58 L472.42 195.13 L472.9 195.7 L473.45 196.31 L474.05 196.94 L474.71 197.61 L475.4 198.29 L476.11 198.97 L476.82 199.66 L477.52 200.33 L478.19 200.99 L478.82 201.61 L479.4 202.2 L479.92 202.75 L480.4 203.28 L480.85 203.79 L481.27 204.28 L481.68 204.75 L482.08 205.21 L482.49 205.66 L482.9 206.11 L483.34 206.56 L483.8 207 L484.29 207.44 L484.8 207.86 L485.33 208.28 L485.86 208.68 L486.4 209.08 L486.94 209.48 L487.47 209.88 L488 210.28 L488.51 210.69 L489 211.1 L489.46 211.51 L489.87 211.91 L490.27 212.3 L490.64 212.7 L491.02 213.09 L491.42 213.5 L491.84 213.93 L492.3 214.39 L492.82 214.88 L493.4 215.4" fill="none" stroke="#000" stroke-width="3.1" stroke-dasharray="11 5"/>
<path d="M493.4 215.4 L494.07 215.98 L494.82 216.61 L495.63 217.28 L496.48 217.98 L497.36 218.69 L498.24 219.41 L499.1 220.11 L499.93 220.78 L500.7 221.42 L501.4 222 L502 222.52 L502.52 222.98 L502.98 223.41 L503.4 223.8 L503.81 224.19 L504.23 224.57 L504.69 224.97 L505.2 225.4 L505.8 225.87 L506.5 226.4 L507.34 227 L508.31 227.67 L509.37 228.39 L510.49 229.14 L511.64 229.91 L512.79 230.66 L513.91 231.39 L514.95 232.06 L515.89 232.68 L516.7 233.2 L517.35 233.62 L517.86 233.95 L518.27 234.2 L518.61 234.41 L518.92 234.59 L519.22 234.77 L519.56 234.97 L519.96 235.21 L520.46 235.51 L521.1 235.9 L521.89 236.38 L522.81 236.95 L523.82 237.57 L524.9 238.23 L526.02 238.91 L527.14 239.6 L528.22 240.27 L529.25 240.9 L530.19 241.49 L531 242 L531.67 242.44 L532.23 242.83 L532.7 243.18 L533.1 243.5 L533.48 243.79 L533.86 244.08 L534.26 244.36 L534.71 244.65 L535.25 244.96 L535.9 245.3" fill="none" stroke="#000" stroke-width="3.1" stroke-dasharray="11 5"/>
<path d="M535.9 245.3 L536.7 245.68 L537.64 246.09 L538.69 246.52 L539.79 246.97 L540.91 247.41 L542 247.83 L543.03 248.22 L543.95 248.58 L544.72 248.87 L545.3 249.1 L545.69 248.88 L546.18 248.59 L546.76 248.25 L547.41 247.87 L548.11 247.46 L548.86 247.02 L549.64 246.58 L550.43 246.14 L551.22 245.71 L552 245.3 L552.79 244.9 L553.63 244.49 L554.5 244.07 L555.39 243.65 L556.29 243.23 L557.2 242.81 L558.09 242.4 L558.96 241.99 L559.8 241.59 L560.6 241.2 L561.34 240.83 L562.02 240.47 L562.66 240.13 L563.28 239.8 L563.89 239.46 L564.51 239.13 L565.16 238.79 L565.84 238.44 L566.59 238.08 L567.4 237.7 L568.31 237.29" fill="none" stroke="#000" stroke-width="3.1" stroke-dasharray="11 5"/>
<path d="M568.31 237.29 L569.31 236.86 L570.37 236.41 L571.48 235.95 L572.61 235.49 L573.73 235.03 L574.82 234.58 L575.87 234.16 L576.83 233.76 L577.7 233.4 L578.45 233.08 L579.08 232.81 L579.64 232.57 L580.14 232.35 L580.61 232.14 L581.09 231.94 L581.6 231.72 L582.17 231.48 L582.83 231.21 L583.6 230.9 L584.51 230.54 L585.55 230.13 L586.69 229.69 L587.88 229.22 L589.1 228.75 L590.32 228.28 L591.5 227.83 L592.61 227.41 L593.62 227.03 L594.5 226.7 L595.22 226.44 L595.8 226.23 L596.27 226.07 L596.68 225.93 L597.05 225.81 L597.42 225.7 L597.83 225.57 L598.3 225.42 L598.88 225.24 L599.6 225 L600.48 224.71 L601.5 224.37 L602.63 224 L603.82 223.61 L605.05 223.21 L606.28 222.8 L607.47 222.41 L608.6 222.04 L609.62 221.7 L610.5 221.4 L611.22 221.16 L611.79 220.96 L612.26 220.8 L612.66 220.66 L613.02 220.53 L613.38 220.39 L613.79 220.25 L614.27 220.07 L614.86 219.86 L615.6 219.6" fill="none" stroke="#000" stroke-width="3.1" stroke-dasharray="11 5"/>
<path d="M615.6 219.6 L616.51 219.28 L617.56 218.91 L618.72 218.5 L619.95 218.07 L621.23 217.62 L622.5 217.17 L623.76 216.73 L624.95 216.31 L626.04 215.93 L627 215.6 L627.82 215.32 L628.52 215.07 L629.14 214.85 L629.69 214.65 L630.21 214.46 L630.73 214.28 L631.27 214.11 L631.86 213.92 L632.53 213.72 L633.3 213.5 L634.19 213.25 L635.18 212.99 L636.25 212.72 L637.37 212.43 L638.51 212.15 L639.65 211.87 L640.76 211.6 L641.82 211.34 L642.81 211.11 L643.7 210.9 L644.47 210.72 L645.14 210.57 L645.74 210.44 L646.28 210.33 L646.8 210.23 L647.32 210.12 L647.86 210.02 L648.46 209.9 L649.13 209.76 L649.9 209.6" fill="none" stroke="#000" stroke-width="3.1" stroke-dasharray="11 5"/>
<path d="M649.9 209.6 L650.78 209.41 L651.76 209.2 L652.81 208.98 L653.91 208.75 L655.03 208.51 L656.16 208.27 L657.28 208.03 L658.35 207.8 L659.37 207.59 L660.3 207.4 L661.19 207.22 L662.08 207.05 L662.95 206.88 L663.79 206.72 L664.6 206.56 L665.35 206.42 L666.04 206.29 L666.66 206.18 L667.18 206.08 L667.6 206" fill="none" stroke="#000" stroke-width="3.1" stroke-dasharray="11 5"/>
<circle cx="469.86" cy="171.38" r="3.45" fill="#bf5ef0" stroke="#2a1236" stroke-width="0.85"/>
<circle cx="473.57" cy="174.23" r="3.45" fill="#bf5ef0" stroke="#2a1236" stroke-width="0.85"/>
<circle cx="474.62" cy="178.46" r="3.45" fill="#bf5ef0" stroke="#2a1236" stroke-width="0.85"/>
<circle cx="475.95" cy="181.43" r="3.45" fill="#bf5ef0" stroke="#2a1236" stroke-width="0.85"/>
<circle cx="479.59" cy="186.08" r="3.45" fill="#bf5ef0" stroke="#2a1236" stroke-width="0.85"/>
<circle cx="480.28" cy="185.24" r="3.45" fill="#bf5ef0" stroke="#2a1236" stroke-width="0.85"/>
<circle cx="482.57" cy="190.78" r="3.45" fill="#bf5ef0" stroke="#2a1236" stroke-width="0.85"/>
<circle cx="486.68" cy="188.17" r="3.45" fill="#bf5ef0" stroke="#2a1236" stroke-width="0.85"/>
<circle cx="489.85" cy="196.29" r="3.45" fill="#bf5ef0" stroke="#2a1236" stroke-width="0.85"/>
<circle cx="491.16" cy="195.9" r="3.45" fill="#bf5ef0" stroke="#2a1236" stroke-width="0.85"/>
<circle cx="491.97" cy="193.9" r="3.45" fill="#bf5ef0" stroke="#2a1236" stroke-width="0.85"/>
<circle cx="495.39" cy="196.02" r="3.45" fill="#bf5ef0" stroke="#2a1236" stroke-width="0.85"/>
<circle cx="496.67" cy="199.03" r="3.45" fill="#bf5ef0" stroke="#2a1236" stroke-width="0.85"/>
<circle cx="498.49" cy="202.48" r="3.45" fill="#bf5ef0" stroke="#2a1236" stroke-width="0.85"/>
<circle cx="502.02" cy="206.97" r="3.45" fill="#bf5ef0" stroke="#2a1236" stroke-width="0.85"/>
<circle cx="504.56" cy="207.75" r="3.45" fill="#bf5ef0" stroke="#2a1236" stroke-width="0.85"/>
<circle cx="506.8" cy="209.96" r="3.45" fill="#bf5ef0" stroke="#2a1236" stroke-width="0.85"/>
<circle cx="508.97" cy="209.57" r="3.45" fill="#bf5ef0" stroke="#2a1236" stroke-width="0.85"/>
<circle cx="512.89" cy="216.23" r="3.45" fill="#bf5ef0" stroke="#2a1236" stroke-width="0.85"/>
<circle cx="514.72" cy="216.46" r="3.45" fill="#bf5ef0" stroke="#2a1236" stroke-width="0.85"/>
<circle cx="515.45" cy="215.47" r="3.45" fill="#bf5ef0" stroke="#2a1236" stroke-width="0.85"/>
<circle cx="517.67" cy="216.46" r="3.45" fill="#bf5ef0" stroke="#2a1236" stroke-width="0.85"/>
<circle cx="521.4" cy="220.18" r="3.45" fill="#bf5ef0" stroke="#2a1236" stroke-width="0.85"/>
<circle cx="523.94" cy="221.7" r="3.45" fill="#bf5ef0" stroke="#2a1236" stroke-width="0.85"/>
<circle cx="526.57" cy="226.26" r="3.45" fill="#bf5ef0" stroke="#2a1236" stroke-width="0.85"/>
<circle cx="526" cy="223.79" r="3.45" fill="#bf5ef0" stroke="#2a1236" stroke-width="0.85"/>
<circle cx="531.03" cy="226.62" r="3.45" fill="#bf5ef0" stroke="#2a1236" stroke-width="0.85"/>
<circle cx="533.54" cy="227.19" r="3.45" fill="#bf5ef0" stroke="#2a1236" stroke-width="0.85"/>
<circle cx="533.12" cy="229.71" r="3.45" fill="#bf5ef0" stroke="#2a1236" stroke-width="0.85"/>
<circle cx="537.54" cy="228.44" r="3.45" fill="#bf5ef0" stroke="#2a1236" stroke-width="0.85"/>
<circle cx="537.76" cy="230.08" r="3.45" fill="#bf5ef0" stroke="#2a1236" stroke-width="0.85"/>
<circle cx="542.69" cy="234.3" r="3.45" fill="#bf5ef0" stroke="#2a1236" stroke-width="0.85"/>
<circle cx="542.45" cy="232.52" r="3.45" fill="#bf5ef0" stroke="#2a1236" stroke-width="0.85"/>
<circle cx="544.7" cy="232.82" r="3.45" fill="#bf5ef0" stroke="#2a1236" stroke-width="0.85"/>
<circle cx="549.09" cy="235.05" r="3.45" fill="#bf5ef0" stroke="#2a1236" stroke-width="0.85"/>
<circle cx="550.68" cy="238.04" r="3.45" fill="#bf5ef0" stroke="#2a1236" stroke-width="0.85"/>
<circle cx="551.87" cy="241.12" r="3.45" fill="#bf5ef0" stroke="#2a1236" stroke-width="0.85"/>
<circle cx="553.99" cy="241.82" r="3.45" fill="#bf5ef0" stroke="#2a1236" stroke-width="0.85"/>
<circle cx="556.25" cy="241.66" r="3.45" fill="#bf5ef0" stroke="#2a1236" stroke-width="0.85"/>
<circle cx="558.84" cy="241.37" r="3.45" fill="#bf5ef0" stroke="#2a1236" stroke-width="0.85"/>
<circle cx="563.41" cy="245.24" r="3.45" fill="#bf5ef0" stroke="#2a1236" stroke-width="0.85"/>
<circle cx="563.71" cy="246.22" r="3.45" fill="#bf5ef0" stroke="#2a1236" stroke-width="0.85"/>
<circle cx="565.73" cy="243.54" r="3.45" fill="#bf5ef0" stroke="#2a1236" stroke-width="0.85"/>
<circle cx="569.96" cy="245.35" r="3.45" fill="#bf5ef0" stroke="#2a1236" stroke-width="0.85"/>
<circle cx="570" cy="246.5" r="3.45" fill="#bf5ef0" stroke="#2a1236" stroke-width="0.85"/>
<circle cx="572.64" cy="242.61" r="3.45" fill="#bf5ef0" stroke="#2a1236" stroke-width="0.85"/>
<circle cx="419.4" cy="78" r="3.45" fill="#bf5ef0" stroke="#2a1236" stroke-width="0.85"/>
<circle cx="432.1" cy="114" r="3.45" fill="#bf5ef0" stroke="#2a1236" stroke-width="0.85"/>
<circle cx="431.4" cy="118.4" r="3.45" fill="#bf5ef0" stroke="#2a1236" stroke-width="0.85"/>
<circle cx="437.2" cy="119.1" r="3.45" fill="#bf5ef0" stroke="#2a1236" stroke-width="0.85"/>
<circle cx="435" cy="123.5" r="3.45" fill="#bf5ef0" stroke="#2a1236" stroke-width="0.85"/>
<circle cx="436.9" cy="129.7" r="3.45" fill="#bf5ef0" stroke="#2a1236" stroke-width="0.85"/>
<circle cx="436.5" cy="135.6" r="3.45" fill="#bf5ef0" stroke="#2a1236" stroke-width="0.85"/>
<circle cx="444.2" cy="136.6" r="3.45" fill="#bf5ef0" stroke="#2a1236" stroke-width="0.85"/>
<circle cx="436.5" cy="130.7" r="3.45" fill="#bf5ef0" stroke="#2a1236" stroke-width="0.85"/>
<circle cx="436.9" cy="136.1" r="3.45" fill="#bf5ef0" stroke="#2a1236" stroke-width="0.85"/>
<circle cx="444.2" cy="137" r="3.45" fill="#bf5ef0" stroke="#2a1236" stroke-width="0.85"/>
<circle cx="440.8" cy="142.8" r="3.45" fill="#bf5ef0" stroke="#2a1236" stroke-width="0.85"/>
<circle cx="447.7" cy="142" r="3.45" fill="#bf5ef0" stroke="#2a1236" stroke-width="0.85"/>
<circle cx="449.6" cy="146.1" r="3.45" fill="#bf5ef0" stroke="#2a1236" stroke-width="0.85"/>
<circle cx="450.3" cy="149" r="3.45" fill="#bf5ef0" stroke="#2a1236" stroke-width="0.85"/>
<circle cx="452.5" cy="152.6" r="3.45" fill="#bf5ef0" stroke="#2a1236" stroke-width="0.85"/>
<circle cx="456.9" cy="153.4" r="3.45" fill="#bf5ef0" stroke="#2a1236" stroke-width="0.85"/>
<circle cx="456.2" cy="156.3" r="3.45" fill="#bf5ef0" stroke="#2a1236" stroke-width="0.85"/>
<circle cx="451.8" cy="159.9" r="3.45" fill="#bf5ef0" stroke="#2a1236" stroke-width="0.85"/>
<circle cx="459.8" cy="160.7" r="3.45" fill="#bf5ef0" stroke="#2a1236" stroke-width="0.85"/>
<circle cx="462" cy="164.3" r="3.45" fill="#bf5ef0" stroke="#2a1236" stroke-width="0.85"/>
<circle cx="448.1" cy="165.8" r="3.45" fill="#bf5ef0" stroke="#2a1236" stroke-width="0.85"/>
<circle cx="463.5" cy="167.2" r="3.45" fill="#bf5ef0" stroke="#2a1236" stroke-width="0.85"/>
<circle cx="469.3" cy="167.2" r="3.45" fill="#bf5ef0" stroke="#2a1236" stroke-width="0.85"/>
<circle cx="467.1" cy="170.1" r="3.45" fill="#bf5ef0" stroke="#2a1236" stroke-width="0.85"/>
<circle cx="445.5" cy="184.7" r="3.45" fill="#bf5ef0" stroke="#2a1236" stroke-width="0.85"/>
<circle cx="460.4" cy="167.2" r="3.45" fill="#bf5ef0" stroke="#2a1236" stroke-width="0.85"/>
<circle cx="465.5" cy="167.2" r="3.45" fill="#bf5ef0" stroke="#2a1236" stroke-width="0.85"/>
<circle cx="468.5" cy="167.9" r="3.45" fill="#bf5ef0" stroke="#2a1236" stroke-width="0.85"/>
<circle cx="467" cy="171.6" r="3.45" fill="#bf5ef0" stroke="#2a1236" stroke-width="0.85"/>
<circle cx="471.4" cy="173.8" r="3.45" fill="#bf5ef0" stroke="#2a1236" stroke-width="0.85"/>
<circle cx="469.9" cy="179.6" r="3.45" fill="#bf5ef0" stroke="#2a1236" stroke-width="0.85"/>
<circle cx="475.8" cy="181.1" r="3.45" fill="#bf5ef0" stroke="#2a1236" stroke-width="0.85"/>
<circle cx="472.1" cy="184.7" r="3.45" fill="#bf5ef0" stroke="#2a1236" stroke-width="0.85"/>
<circle cx="479.4" cy="186.2" r="3.45" fill="#bf5ef0" stroke="#2a1236" stroke-width="0.85"/>
<circle cx="482.3" cy="187.6" r="3.45" fill="#bf5ef0" stroke="#2a1236" stroke-width="0.85"/>
<circle cx="486" cy="186.9" r="3.45" fill="#bf5ef0" stroke="#2a1236" stroke-width="0.85"/>
<circle cx="488.2" cy="190.5" r="3.45" fill="#bf5ef0" stroke="#2a1236" stroke-width="0.85"/>
<circle cx="484.5" cy="194.2" r="3.45" fill="#bf5ef0" stroke="#2a1236" stroke-width="0.85"/>
<circle cx="478.7" cy="197.1" r="3.45" fill="#bf5ef0" stroke="#2a1236" stroke-width="0.85"/>
<circle cx="490.4" cy="195.7" r="3.45" fill="#bf5ef0" stroke="#2a1236" stroke-width="0.85"/>
<circle cx="494" cy="195.7" r="3.45" fill="#bf5ef0" stroke="#2a1236" stroke-width="0.85"/>
<circle cx="494.7" cy="199.3" r="3.45" fill="#bf5ef0" stroke="#2a1236" stroke-width="0.85"/>
<circle cx="499.1" cy="200.8" r="3.45" fill="#bf5ef0" stroke="#2a1236" stroke-width="0.85"/>
<circle cx="501.3" cy="203" r="3.45" fill="#bf5ef0" stroke="#2a1236" stroke-width="0.85"/>
<circle cx="495.5" cy="203.7" r="3.45" fill="#bf5ef0" stroke="#2a1236" stroke-width="0.85"/>
<circle cx="478.8" cy="197.2" r="3.45" fill="#bf5ef0" stroke="#2a1236" stroke-width="0.85"/>
<circle cx="486.1" cy="196.5" r="3.45" fill="#bf5ef0" stroke="#2a1236" stroke-width="0.85"/>
<circle cx="489.7" cy="197.2" r="3.45" fill="#bf5ef0" stroke="#2a1236" stroke-width="0.85"/>
<circle cx="494.1" cy="197.9" r="3.45" fill="#bf5ef0" stroke="#2a1236" stroke-width="0.85"/>
<circle cx="494.8" cy="200.8" r="3.45" fill="#bf5ef0" stroke="#2a1236" stroke-width="0.85"/>
<circle cx="499.9" cy="201.6" r="3.45" fill="#bf5ef0" stroke="#2a1236" stroke-width="0.85"/>
<circle cx="496.3" cy="204.5" r="3.45" fill="#bf5ef0" stroke="#2a1236" stroke-width="0.85"/>
<circle cx="501.4" cy="204.5" r="3.45" fill="#bf5ef0" stroke="#2a1236" stroke-width="0.85"/>
<circle cx="497.7" cy="211.1" r="3.45" fill="#bf5ef0" stroke="#2a1236" stroke-width="0.85"/>
<circle cx="498.5" cy="213.2" r="3.45" fill="#bf5ef0" stroke="#2a1236" stroke-width="0.85"/>
<circle cx="505.8" cy="209.6" r="3.45" fill="#bf5ef0" stroke="#2a1236" stroke-width="0.85"/>
<circle cx="506.5" cy="213.2" r="3.45" fill="#bf5ef0" stroke="#2a1236" stroke-width="0.85"/>
<circle cx="509.4" cy="216.9" r="3.45" fill="#bf5ef0" stroke="#2a1236" stroke-width="0.85"/>
<circle cx="515.3" cy="208.9" r="3.45" fill="#bf5ef0" stroke="#2a1236" stroke-width="0.85"/>
<circle cx="516.4" cy="214.7" r="3.45" fill="#bf5ef0" stroke="#2a1236" stroke-width="0.85"/>
<circle cx="513.8" cy="218.4" r="3.45" fill="#bf5ef0" stroke="#2a1236" stroke-width="0.85"/>
<circle cx="518.2" cy="220.5" r="3.45" fill="#bf5ef0" stroke="#2a1236" stroke-width="0.85"/>
<circle cx="513.8" cy="224.9" r="3.45" fill="#bf5ef0" stroke="#2a1236" stroke-width="0.85"/>
<circle cx="520.4" cy="225.7" r="3.45" fill="#bf5ef0" stroke="#2a1236" stroke-width="0.85"/>
<circle cx="521.8" cy="227.8" r="3.45" fill="#bf5ef0" stroke="#2a1236" stroke-width="0.85"/>
<circle cx="524.7" cy="222" r="3.45" fill="#bf5ef0" stroke="#2a1236" stroke-width="0.85"/>
<circle cx="525.2" cy="214.7" r="3.45" fill="#bf5ef0" stroke="#2a1236" stroke-width="0.85"/>
<circle cx="529.1" cy="224.9" r="3.45" fill="#bf5ef0" stroke="#2a1236" stroke-width="0.85"/>
<circle cx="528.4" cy="229.3" r="3.45" fill="#bf5ef0" stroke="#2a1236" stroke-width="0.85"/>
<circle cx="532.8" cy="227.8" r="3.45" fill="#bf5ef0" stroke="#2a1236" stroke-width="0.85"/>
<circle cx="534.2" cy="231.5" r="3.45" fill="#bf5ef0" stroke="#2a1236" stroke-width="0.85"/>
<circle cx="538.6" cy="230.8" r="3.45" fill="#bf5ef0" stroke="#2a1236" stroke-width="0.85"/>
<circle cx="541.5" cy="231.5" r="3.45" fill="#bf5ef0" stroke="#2a1236" stroke-width="0.85"/>
<circle cx="544.5" cy="233.7" r="3.45" fill="#bf5ef0" stroke="#2a1236" stroke-width="0.85"/>
<circle cx="546.6" cy="235.1" r="3.45" fill="#bf5ef0" stroke="#2a1236" stroke-width="0.85"/>
<circle cx="525.1" cy="216.5" r="3.45" fill="#bf5ef0" stroke="#2a1236" stroke-width="0.85"/>
<circle cx="524.4" cy="221.6" r="3.45" fill="#bf5ef0" stroke="#2a1236" stroke-width="0.85"/>
<circle cx="520.7" cy="223" r="3.45" fill="#bf5ef0" stroke="#2a1236" stroke-width="0.85"/>
<circle cx="529.5" cy="224.5" r="3.45" fill="#bf5ef0" stroke="#2a1236" stroke-width="0.85"/>
<circle cx="522.2" cy="226.7" r="3.45" fill="#bf5ef0" stroke="#2a1236" stroke-width="0.85"/>
<circle cx="527.3" cy="228.1" r="3.45" fill="#bf5ef0" stroke="#2a1236" stroke-width="0.85"/>
<circle cx="531.7" cy="228.1" r="3.45" fill="#bf5ef0" stroke="#2a1236" stroke-width="0.85"/>
<circle cx="534.6" cy="231.1" r="3.45" fill="#bf5ef0" stroke="#2a1236" stroke-width="0.85"/>
<circle cx="539" cy="230.3" r="3.45" fill="#bf5ef0" stroke="#2a1236" stroke-width="0.85"/>
<circle cx="541.9" cy="232.5" r="3.45" fill="#bf5ef0" stroke="#2a1236" stroke-width="0.85"/>
<circle cx="544.1" cy="235.4" r="3.45" fill="#bf5ef0" stroke="#2a1236" stroke-width="0.85"/>
<circle cx="546.3" cy="237.6" r="3.45" fill="#bf5ef0" stroke="#2a1236" stroke-width="0.85"/>
<circle cx="549.2" cy="240.5" r="3.45" fill="#bf5ef0" stroke="#2a1236" stroke-width="0.85"/>
<circle cx="553.6" cy="241.3" r="3.45" fill="#bf5ef0" stroke="#2a1236" stroke-width="0.85"/>
<circle cx="556.5" cy="242.7" r="3.45" fill="#bf5ef0" stroke="#2a1236" stroke-width="0.85"/>
<circle cx="552.1" cy="246.4" r="3.45" fill="#bf5ef0" stroke="#2a1236" stroke-width="0.85"/>
<circle cx="559.4" cy="245.7" r="3.45" fill="#bf5ef0" stroke="#2a1236" stroke-width="0.85"/>
<circle cx="563.8" cy="246.4" r="3.45" fill="#bf5ef0" stroke="#2a1236" stroke-width="0.85"/>
<circle cx="568.2" cy="241.3" r="3.45" fill="#bf5ef0" stroke="#2a1236" stroke-width="0.85"/>
<circle cx="570.4" cy="245.7" r="3.45" fill="#bf5ef0" stroke="#2a1236" stroke-width="0.85"/>
<circle cx="574" cy="242" r="3.45" fill="#bf5ef0" stroke="#2a1236" stroke-width="0.85"/>
<circle cx="576.9" cy="244.9" r="3.45" fill="#bf5ef0" stroke="#2a1236" stroke-width="0.85"/>
<circle cx="574.7" cy="247.8" r="3.45" fill="#bf5ef0" stroke="#2a1236" stroke-width="0.85"/>
<circle cx="555.8" cy="247.8" r="3.45" fill="#bf5ef0" stroke="#2a1236" stroke-width="0.85"/>
<circle cx="548" cy="244" r="3.45" fill="#bf5ef0" stroke="#2a1236" stroke-width="0.85"/>
<circle cx="551" cy="243.5" r="3.45" fill="#bf5ef0" stroke="#2a1236" stroke-width="0.85"/>
<circle cx="545" cy="241" r="3.45" fill="#bf5ef0" stroke="#2a1236" stroke-width="0.85"/>
<circle cx="537" cy="234" r="3.45" fill="#bf5ef0" stroke="#2a1236" stroke-width="0.85"/>
<circle cx="542" cy="238" r="3.45" fill="#bf5ef0" stroke="#2a1236" stroke-width="0.85"/>
<circle cx="560" cy="248" r="3.45" fill="#bf5ef0" stroke="#2a1236" stroke-width="0.85"/>
<circle cx="566" cy="247.5" r="3.45" fill="#bf5ef0" stroke="#2a1236" stroke-width="0.85"/>
<circle cx="515.2" cy="206.6" r="3.45" fill="#bf5ef0" stroke="#2a1236" stroke-width="0.85"/>
<rect x="408" y="29.3" width="275.3" height="220.1" fill="none" stroke="#626262" stroke-width="1.2"/>
<line x1="405.2" y1="249.3" x2="408" y2="249.3" stroke="#626262" stroke-width="1.2"/>
<text x="402.1" y="254.8" font-size="15.34" textLength="22.9" lengthAdjust="spacingAndGlyphs" text-anchor="end">0.0</text>
<line x1="405.2" y1="194.4" x2="408" y2="194.4" stroke="#626262" stroke-width="1.2"/>
<text x="402.1" y="199.9" font-size="15.34" textLength="22.9" lengthAdjust="spacingAndGlyphs" text-anchor="end">0.2</text>
<line x1="405.2" y1="139.5" x2="408" y2="139.5" stroke="#626262" stroke-width="1.2"/>
<text x="402.1" y="145" font-size="15.34" textLength="22.9" lengthAdjust="spacingAndGlyphs" text-anchor="end">0.4</text>
<line x1="405.2" y1="84.6" x2="408" y2="84.6" stroke="#626262" stroke-width="1.2"/>
<text x="402.1" y="90.1" font-size="15.34" textLength="22.9" lengthAdjust="spacingAndGlyphs" text-anchor="end">0.6</text>
<line x1="405.2" y1="29.7" x2="408" y2="29.7" stroke="#626262" stroke-width="1.2"/>
<text x="402.1" y="35.2" font-size="15.34" textLength="22.9" lengthAdjust="spacingAndGlyphs" text-anchor="end">0.8</text>
<line x1="423" y1="249.4" x2="423" y2="252.2" stroke="#626262" stroke-width="1.2"/>
<text x="423.4" y="266.5" font-size="15.34" textLength="9.16" lengthAdjust="spacingAndGlyphs" text-anchor="middle">0</text>
<line x1="484.16" y1="249.4" x2="484.16" y2="252.2" stroke="#626262" stroke-width="1.2"/>
<text x="484.56" y="266.5" font-size="15.34" textLength="9.16" lengthAdjust="spacingAndGlyphs" text-anchor="middle">2</text>
<line x1="545.32" y1="249.4" x2="545.32" y2="252.2" stroke="#626262" stroke-width="1.2"/>
<text x="545.72" y="266.5" font-size="15.34" textLength="9.16" lengthAdjust="spacingAndGlyphs" text-anchor="middle">4</text>
<line x1="606.48" y1="249.4" x2="606.48" y2="252.2" stroke="#626262" stroke-width="1.2"/>
<text x="606.88" y="266.5" font-size="15.34" textLength="9.16" lengthAdjust="spacingAndGlyphs" text-anchor="middle">6</text>
<line x1="667.64" y1="249.4" x2="667.64" y2="252.2" stroke="#626262" stroke-width="1.2"/>
<text x="668.04" y="266.5" font-size="15.34" textLength="9.16" lengthAdjust="spacingAndGlyphs" text-anchor="middle">8</text>
<text x="492" y="283.6" font-size="15.34" textLength="107.5" lengthAdjust="spacingAndGlyphs">Nonlinearity, <tspan font-style="italic">α</tspan></text>
<text x="482.2" y="20.8" font-size="23" textLength="70.75" lengthAdjust="spacingAndGlyphs">HillBot</text>
<text x="346.4" y="42.6" font-size="31" textLength="20.5" lengthAdjust="spacingAndGlyphs" font-weight="bold">b</text>
<g transform="translate(371.8,138.75) rotate(-90)">
<text x="0" y="0" font-size="15.34" textLength="153.5" lengthAdjust="spacingAndGlyphs" text-anchor="middle"><tspan font-style="italic">φ</tspan><tspan font-size="10.74" dy="2.88" font-style="italic">Hill</tspan><tspan dy="-2.88">(</tspan><tspan font-style="italic">α</tspan>) = | <tspan font-style="italic">η</tspan><tspan font-size="10.74" dy="-4.75">†</tspan><tspan dy="4.75"> − </tspan><tspan font-style="italic">PC</tspan><tspan font-size="10.74" dy="-4.75">†</tspan><tspan dy="4.75"> |</tspan></text>
</g>
<text x="621.8" y="184.9" font-size="11.93" font-style="italic">α</text>
<text x="631.5" y="179.9" font-size="9.16">*</text>
<text x="629.4" y="187.3" font-size="8.41" textLength="13.6" lengthAdjust="spacingAndGlyphs"><tspan font-style="italic">bot</tspan></text>
<text x="645.1" y="184.9" font-size="11.93" textLength="9.6" lengthAdjust="spacingAndGlyphs">=</text>
<text x="656.9" y="184.9" font-size="11.93" textLength="17.9" lengthAdjust="spacingAndGlyphs">4.0</text>
<rect x="413.2" y="35.2" width="116.1" height="35.7" rx="2.5" fill="#fff" fill-opacity="0.8" stroke="#cccccc" stroke-width="1"/>
<path d="M418.3 43.9 L441.4 43.9" fill="none" stroke="#000" stroke-width="3.1" stroke-dasharray="11 6"/>
<circle cx="429.5" cy="61.3" r="3.45" fill="#bf5ef0" stroke="#2a1236" stroke-width="0.85"/>
<text x="449.3" y="48" font-size="12.25" textLength="75.85" lengthAdjust="spacingAndGlyphs">HillBot Model</text>
<text x="449.3" y="64.8" font-size="12.25" textLength="68.78" lengthAdjust="spacingAndGlyphs">HillBot Data</text>
<rect x="572.6" y="30.9" width="108.9" height="109.9" fill="#fff"/>
<clipPath id="cib"><rect x="572.6" y="30.9" width="108.9" height="109.9"/></clipPath>
<g clip-path="url(#cib)">
<path d="M581.9 125.68 L582.49 125.47 L583.09 125.26 L583.68 125.06 L584.27 124.86 L584.87 124.67 L585.46 124.48 L586.06 124.3 L586.65 124.12 L587.24 123.94 L587.84 123.76 L588.43 123.59 L589.02 123.43 L589.62 123.26 L590.21 123.1 L590.81 122.95 L591.4 122.79 L591.99 122.64 L592.59 122.5 L593.18 122.35 L593.77 122.21 L594.37 122.07 L594.96 121.94 L595.56 121.81 L596.15 121.68 L596.74 121.55 L597.34 121.43 L597.93 121.3 L598.52 121.18 L599.12 121.07 L599.71 120.95 L600.31 120.84 L600.9 120.73 L601.49 120.63 L602.09 120.52 L602.68 120.42 L603.27 120.32 L603.87 120.22 L604.46 120.12 L605.05 120.03 L605.65 119.93 L606.24 119.84 L606.84 119.75 L607.43 119.67 L608.02 119.58 L608.62 119.5 L609.21 119.42 L609.8 119.34 L610.4 119.26 L610.99 119.18 L611.59 119.11 L612.18 119.03 L612.77 118.96 L613.37 118.89 L613.96 118.82 L614.55 118.75 L615.15 118.69 L615.74 118.62 L616.34 118.56 L616.93 118.5 L617.52 118.44 L618.12 118.38 L618.71 118.32 L619.3 118.26 L619.9 118.2 L620.49 118.15 L621.08 118.1 L621.68 118.04 L622.27 117.99 L622.87 117.94 L623.46 117.89 L624.05 117.84 L624.65 117.8 L625.24 117.75 L625.83 117.7 L626.43 117.66 L627.02 117.62 L627.62 117.57 L628.21 117.53 L628.8 117.49 L629.4 117.45 L629.99 117.41 L630.58 117.37 L631.18 117.34 L631.77 117.3 L632.37 117.26 L632.96 117.23 L633.55 117.19 L634.15 117.16 L634.74 117.13 L635.33 117.09 L635.93 117.06 L636.52 117.03 L637.12 117 L637.71 116.97 L638.3 116.94 L638.9 116.91 L639.49 116.88 L640.08 116.86 L640.68 116.83 L641.27 116.8 L641.86 116.78 L642.46 116.75 L643.05 116.73 L643.65 116.7 L644.24 116.68 L644.83 116.66 L645.43 116.63 L646.02 116.61 L646.61 116.59 L647.21 116.57 L647.8 116.55 L648.4 116.53 L648.99 116.51 L649.58 116.49 L650.18 116.47 L650.77 116.45 L651.36 116.43 L651.96 116.41 L652.55 116.39 L653.15 116.38 L653.74 116.36 L654.33 116.34 L654.93 116.33 L655.52 116.31 L656.11 116.3 L656.71 116.28 L657.3 116.27 L657.89 116.25 L658.49 116.24 L659.08 116.22 L659.68 116.21 L660.27 116.19 L660.86 116.18 L661.46 116.17 L662.05 116.16 L662.64 116.14 L663.24 116.13 L663.83 116.12 L664.43 116.11 L665.02 116.1 L665.61 116.09 L666.21 116.07 L666.8 116.06 L667.39 116.05 L667.99 116.04 L668.58 116.03 L669.18 116.02 L669.77 116.01 L670.36 116 L670.96 116 L671.55 115.99 L672.14 115.98 L672.74 115.97 L673.33 115.96 L673.93 115.95 L674.52 115.94 L675.11 115.94 L675.71 115.93 L676.3 115.92" fill="none" stroke="#000" stroke-width="2.9" stroke-dasharray="10 4.6"/>
<path d="M581.9 44.73 L582.49 46.33 L583.09 47.98 L583.68 49.76 L584.27 51.73 L584.87 53.79 L585.46 55.79 L586.06 57.69 L586.65 59.56 L587.24 61.49 L587.84 63.63 L588.43 65.88 L589.02 67.9 L589.62 69.56 L590.21 71 L590.81 72.33 L591.4 73.59 L591.99 74.75 L592.59 75.86 L593.18 77.04 L593.77 78.29 L594.37 79.58 L594.96 81 L595.56 82.55 L596.15 83.57 L596.74 84.42 L597.34 85.23 L597.93 86.05 L598.52 86.95 L599.12 87.97 L599.71 89.05 L600.31 90.18 L600.9 91.24 L601.49 92.08 L602.09 92.82 L602.68 93.53 L603.27 94.23 L603.87 94.99 L604.46 95.84 L605.05 96.67 L605.65 97.36 L606.24 97.91 L606.84 98.45 L607.43 99.04 L608.02 99.77 L608.62 100.54 L609.21 101.22 L609.8 101.84 L610.4 102.45 L610.99 103.05 L611.59 103.65 L612.18 104.27 L612.77 104.94 L613.37 105.64 L613.96 106.24 L614.55 106.77 L615.15 107.28 L615.74 107.77 L616.34 108.26 L616.93 108.74 L617.52 109.22 L618.12 109.7 L618.71 110.17 L619.3 110.61 L619.9 111.06 L620.49 111.52 L621.08 111.98 L621.68 112.43 L622.27 112.9 L622.87 113.36 L623.46 113.83 L624.05 114.34 L624.65 114.93 L625.24 115.42 L625.83 115.78 L626.43 116.09 L627.02 116.38 L627.62 116.67 L628.21 116.94 L628.8 117.22 L629.4 117.81 L629.99 118.26 L630.58 118.7 L631.18 119.13 L631.77 119.53 L632.37 119.91 L632.96 120.27 L633.55 120.62 L634.15 120.98 L634.74 121.34 L635.33 121.72 L635.93 122.13 L636.52 122.55 L637.12 122.95 L637.71 123.31 L638.3 123.65 L638.9 123.97 L639.49 124.29 L640.08 124.6 L640.68 124.92 L641.27 125.23 L641.86 125.56 L642.46 125.89 L643.05 126.23 L643.65 126.55 L644.24 126.86 L644.83 127.16 L645.43 127.46 L646.02 127.77 L646.61 128.06 L647.21 128.36 L647.8 128.65 L648.4 128.94 L648.99 129.21 L649.58 129.45 L650.18 129.7 L650.77 129.96 L651.36 130.21 L651.96 130.47 L652.55 130.73 L653.15 130.98 L653.74 131.24 L654.33 131.51 L654.93 131.78 L655.52 132.06 L656.11 132.34 L656.71 132.62 L657.3 132.9 L657.89 133.18 L658.49 133.46 L659.08 133.74 L659.68 134.02 L660.27 134.29 L660.86 134.57 L661.46 134.85 L662.05 135.13 L662.64 135.39 L663.24 135.61 L663.83 135.82 L664.43 136.02 L665.02 136.22 L665.61 136.41 L666.21 136.61 L666.8 136.79 L667.39 136.98 L667.99 137.15 L668.58 137.3 L669.18 137.46 L669.77 137.63 L670.36 137.8 L670.96 137.97 L671.55 138.13 L672.14 138.3 L672.74 138.47 L673.33 138.63 L673.93 138.79 L674.52 138.95 L675.11 139.1 L675.71 139.25 L676.3 139.39" fill="none" stroke="#000" stroke-width="2.9" stroke-dasharray="10 4.6"/>
<circle cx="580.1" cy="36.7" r="2.95" fill="#4a6ee8" stroke="#3756c8" stroke-width="0.5"/>
<circle cx="585.8" cy="57.3" r="2.95" fill="#4a6ee8" stroke="#3756c8" stroke-width="0.5"/>
<circle cx="586.2" cy="60" r="2.95" fill="#4a6ee8" stroke="#3756c8" stroke-width="0.5"/>
<circle cx="586.7" cy="63.4" r="2.95" fill="#4a6ee8" stroke="#3756c8" stroke-width="0.5"/>
<circle cx="587.8" cy="66.5" r="2.95" fill="#4a6ee8" stroke="#3756c8" stroke-width="0.5"/>
<circle cx="588.6" cy="68.8" r="2.95" fill="#4a6ee8" stroke="#3756c8" stroke-width="0.5"/>
<circle cx="587.8" cy="71.3" r="2.95" fill="#4a6ee8" stroke="#3756c8" stroke-width="0.5"/>
<circle cx="592" cy="71.7" r="2.95" fill="#4a6ee8" stroke="#3756c8" stroke-width="0.5"/>
<circle cx="590.5" cy="74.5" r="2.95" fill="#4a6ee8" stroke="#3756c8" stroke-width="0.5"/>
<circle cx="591.6" cy="77.9" r="2.95" fill="#4a6ee8" stroke="#3756c8" stroke-width="0.5"/>
<circle cx="594.5" cy="77.1" r="2.95" fill="#4a6ee8" stroke="#3756c8" stroke-width="0.5"/>
<circle cx="594.1" cy="80.8" r="2.95" fill="#4a6ee8" stroke="#3756c8" stroke-width="0.5"/>
<circle cx="597.4" cy="82.1" r="2.95" fill="#4a6ee8" stroke="#3756c8" stroke-width="0.5"/>
<circle cx="599.5" cy="83.7" r="2.95" fill="#4a6ee8" stroke="#3756c8" stroke-width="0.5"/>
<circle cx="590.3" cy="83.7" r="2.95" fill="#4a6ee8" stroke="#3756c8" stroke-width="0.5"/>
<circle cx="598.2" cy="86.7" r="2.95" fill="#4a6ee8" stroke="#3756c8" stroke-width="0.5"/>
<circle cx="600.7" cy="87.9" r="2.95" fill="#4a6ee8" stroke="#3756c8" stroke-width="0.5"/>
<circle cx="602" cy="90.4" r="2.95" fill="#4a6ee8" stroke="#3756c8" stroke-width="0.5"/>
<circle cx="604.5" cy="92.5" r="2.95" fill="#4a6ee8" stroke="#3756c8" stroke-width="0.5"/>
<circle cx="590.3" cy="92.9" r="2.95" fill="#4a6ee8" stroke="#3756c8" stroke-width="0.5"/>
<circle cx="603" cy="93.5" r="2.95" fill="#4a6ee8" stroke="#3756c8" stroke-width="0.5"/>
<circle cx="604.5" cy="96" r="2.95" fill="#4a6ee8" stroke="#3756c8" stroke-width="0.5"/>
<circle cx="602.5" cy="99.8" r="2.95" fill="#4a6ee8" stroke="#3756c8" stroke-width="0.5"/>
<circle cx="606.6" cy="98" r="2.95" fill="#4a6ee8" stroke="#3756c8" stroke-width="0.5"/>
<circle cx="608.5" cy="101" r="2.95" fill="#4a6ee8" stroke="#3756c8" stroke-width="0.5"/>
<circle cx="611.3" cy="103.9" r="2.95" fill="#4a6ee8" stroke="#3756c8" stroke-width="0.5"/>
<circle cx="617.2" cy="101.5" r="2.95" fill="#4a6ee8" stroke="#3756c8" stroke-width="0.5"/>
<circle cx="613.5" cy="106" r="2.95" fill="#4a6ee8" stroke="#3756c8" stroke-width="0.5"/>
<circle cx="610.7" cy="107.4" r="2.95" fill="#4a6ee8" stroke="#3756c8" stroke-width="0.5"/>
<circle cx="621.3" cy="106.2" r="2.95" fill="#4a6ee8" stroke="#3756c8" stroke-width="0.5"/>
<circle cx="619" cy="108.5" r="2.95" fill="#4a6ee8" stroke="#3756c8" stroke-width="0.5"/>
<circle cx="616" cy="110.9" r="2.95" fill="#4a6ee8" stroke="#3756c8" stroke-width="0.5"/>
<circle cx="623" cy="111.5" r="2.95" fill="#4a6ee8" stroke="#3756c8" stroke-width="0.5"/>
<circle cx="626.6" cy="113.3" r="2.95" fill="#4a6ee8" stroke="#3756c8" stroke-width="0.5"/>
<circle cx="630.1" cy="115.1" r="2.95" fill="#4a6ee8" stroke="#3756c8" stroke-width="0.5"/>
<circle cx="633.6" cy="116.2" r="2.95" fill="#4a6ee8" stroke="#3756c8" stroke-width="0.5"/>
<circle cx="636.6" cy="117.4" r="2.95" fill="#4a6ee8" stroke="#3756c8" stroke-width="0.5"/>
<circle cx="638.7" cy="126.8" r="2.95" fill="#4a6ee8" stroke="#3756c8" stroke-width="0.5"/>
<circle cx="642.4" cy="125.1" r="2.95" fill="#4a6ee8" stroke="#3756c8" stroke-width="0.5"/>
<circle cx="579.8" cy="127.9" r="3.1" fill="#dd7076" stroke="#94404a" stroke-width="0.7"/>
<circle cx="583.5" cy="126.96" r="3.1" fill="#dd7076" stroke="#94404a" stroke-width="0.7"/>
<circle cx="584.75" cy="127.74" r="3.1" fill="#dd7076" stroke="#94404a" stroke-width="0.7"/>
<circle cx="586" cy="127.18" r="3.1" fill="#dd7076" stroke="#94404a" stroke-width="0.7"/>
<circle cx="587.25" cy="127.76" r="3.1" fill="#dd7076" stroke="#94404a" stroke-width="0.7"/>
<circle cx="588.5" cy="127.74" r="3.1" fill="#dd7076" stroke="#94404a" stroke-width="0.7"/>
<circle cx="589.75" cy="126.1" r="3.1" fill="#dd7076" stroke="#94404a" stroke-width="0.7"/>
<circle cx="591" cy="125.88" r="3.1" fill="#dd7076" stroke="#94404a" stroke-width="0.7"/>
<circle cx="592.25" cy="128.11" r="3.1" fill="#dd7076" stroke="#94404a" stroke-width="0.7"/>
<circle cx="593.5" cy="126.42" r="3.1" fill="#dd7076" stroke="#94404a" stroke-width="0.7"/>
<circle cx="594.75" cy="126.27" r="3.1" fill="#dd7076" stroke="#94404a" stroke-width="0.7"/>
<circle cx="596" cy="128.33" r="3.1" fill="#dd7076" stroke="#94404a" stroke-width="0.7"/>
<circle cx="597.25" cy="126.78" r="3.1" fill="#dd7076" stroke="#94404a" stroke-width="0.7"/>
<circle cx="598.5" cy="127.73" r="3.1" fill="#dd7076" stroke="#94404a" stroke-width="0.7"/>
<circle cx="599.75" cy="126.65" r="3.1" fill="#dd7076" stroke="#94404a" stroke-width="0.7"/>
<circle cx="601" cy="126.98" r="3.1" fill="#dd7076" stroke="#94404a" stroke-width="0.7"/>
<circle cx="602.25" cy="125.49" r="3.1" fill="#dd7076" stroke="#94404a" stroke-width="0.7"/>
<circle cx="603.5" cy="126.71" r="3.1" fill="#dd7076" stroke="#94404a" stroke-width="0.7"/>
<circle cx="604.75" cy="127.23" r="3.1" fill="#dd7076" stroke="#94404a" stroke-width="0.7"/>
<circle cx="606" cy="126.13" r="3.1" fill="#dd7076" stroke="#94404a" stroke-width="0.7"/>
<circle cx="607.25" cy="126.61" r="3.1" fill="#dd7076" stroke="#94404a" stroke-width="0.7"/>
<circle cx="608.5" cy="126.29" r="3.1" fill="#dd7076" stroke="#94404a" stroke-width="0.7"/>
<circle cx="609.75" cy="124.46" r="3.1" fill="#dd7076" stroke="#94404a" stroke-width="0.7"/>
<circle cx="611" cy="126.27" r="3.1" fill="#dd7076" stroke="#94404a" stroke-width="0.7"/>
<circle cx="612.25" cy="125.67" r="3.1" fill="#dd7076" stroke="#94404a" stroke-width="0.7"/>
<circle cx="613.5" cy="124.73" r="3.1" fill="#dd7076" stroke="#94404a" stroke-width="0.7"/>
<circle cx="614.75" cy="123.84" r="3.1" fill="#dd7076" stroke="#94404a" stroke-width="0.7"/>
<circle cx="616" cy="126.04" r="3.1" fill="#dd7076" stroke="#94404a" stroke-width="0.7"/>
<circle cx="617.25" cy="124.81" r="3.1" fill="#dd7076" stroke="#94404a" stroke-width="0.7"/>
<circle cx="618.5" cy="125.37" r="3.1" fill="#dd7076" stroke="#94404a" stroke-width="0.7"/>
<circle cx="619.75" cy="125.69" r="3.1" fill="#dd7076" stroke="#94404a" stroke-width="0.7"/>
<circle cx="621" cy="125.04" r="3.1" fill="#dd7076" stroke="#94404a" stroke-width="0.7"/>
<circle cx="622.25" cy="125.43" r="3.1" fill="#dd7076" stroke="#94404a" stroke-width="0.7"/>
<circle cx="623.5" cy="123.76" r="3.1" fill="#dd7076" stroke="#94404a" stroke-width="0.7"/>
<circle cx="624.75" cy="124.7" r="3.1" fill="#dd7076" stroke="#94404a" stroke-width="0.7"/>
<circle cx="626" cy="123.5" r="3.1" fill="#dd7076" stroke="#94404a" stroke-width="0.7"/>
<circle cx="627.25" cy="124.68" r="3.1" fill="#dd7076" stroke="#94404a" stroke-width="0.7"/>
<circle cx="628.5" cy="124.33" r="3.1" fill="#dd7076" stroke="#94404a" stroke-width="0.7"/>
<circle cx="629.75" cy="121.94" r="3.1" fill="#dd7076" stroke="#94404a" stroke-width="0.7"/>
<circle cx="631" cy="121.85" r="3.1" fill="#dd7076" stroke="#94404a" stroke-width="0.7"/>
<circle cx="632.25" cy="121.88" r="3.1" fill="#dd7076" stroke="#94404a" stroke-width="0.7"/>
<circle cx="633.5" cy="123.78" r="3.1" fill="#dd7076" stroke="#94404a" stroke-width="0.7"/>
<circle cx="634.75" cy="122.1" r="3.1" fill="#dd7076" stroke="#94404a" stroke-width="0.7"/>
<circle cx="636" cy="122.44" r="3.1" fill="#dd7076" stroke="#94404a" stroke-width="0.7"/>
<circle cx="637.25" cy="121.33" r="3.1" fill="#dd7076" stroke="#94404a" stroke-width="0.7"/>
<circle cx="638.5" cy="121.71" r="3.1" fill="#dd7076" stroke="#94404a" stroke-width="0.7"/>
<circle cx="641.2" cy="121.3" r="3.1" fill="#dd7076" stroke="#94404a" stroke-width="0.7"/>
</g>
<rect x="572.6" y="30.9" width="108.9" height="109.9" fill="none" stroke="#626262" stroke-width="1.2"/>
<line x1="569.8" y1="119.8" x2="572.6" y2="119.8" stroke="#626262" stroke-width="1.2"/>
<text x="566.8" y="124.2" font-size="12.25" textLength="25.6" lengthAdjust="spacingAndGlyphs" text-anchor="end">0.50</text>
<line x1="569.8" y1="82.6" x2="572.6" y2="82.6" stroke="#626262" stroke-width="1.2"/>
<text x="566.8" y="87" font-size="12.25" textLength="25.6" lengthAdjust="spacingAndGlyphs" text-anchor="end">0.75</text>
<line x1="569.8" y1="45.4" x2="572.6" y2="45.4" stroke="#626262" stroke-width="1.2"/>
<text x="566.8" y="49.8" font-size="12.25" textLength="25.6" lengthAdjust="spacingAndGlyphs" text-anchor="end">1.00</text>
<line x1="581.9" y1="140.8" x2="581.9" y2="143.6" stroke="#626262" stroke-width="1.2"/>
<text x="582" y="155.7" font-size="12.25" textLength="7.31" lengthAdjust="spacingAndGlyphs" text-anchor="middle">0</text>
<line x1="605.5" y1="140.8" x2="605.5" y2="143.6" stroke="#626262" stroke-width="1.2"/>
<text x="605.6" y="155.7" font-size="12.25" textLength="7.31" lengthAdjust="spacingAndGlyphs" text-anchor="middle">2</text>
<line x1="629.1" y1="140.8" x2="629.1" y2="143.6" stroke="#626262" stroke-width="1.2"/>
<text x="629.2" y="155.7" font-size="12.25" textLength="7.31" lengthAdjust="spacingAndGlyphs" text-anchor="middle">4</text>
<line x1="652.7" y1="140.8" x2="652.7" y2="143.6" stroke="#626262" stroke-width="1.2"/>
<text x="652.8" y="155.7" font-size="12.25" textLength="7.31" lengthAdjust="spacingAndGlyphs" text-anchor="middle">6</text>
<line x1="676.3" y1="140.8" x2="676.3" y2="143.6" stroke="#626262" stroke-width="1.2"/>
<text x="676.4" y="155.7" font-size="12.25" textLength="7.31" lengthAdjust="spacingAndGlyphs" text-anchor="middle">8</text>
<circle cx="601.8" cy="45.5" r="3" fill="#dd7076"/>
<circle cx="601.8" cy="60.4" r="3" fill="#4a6ee8"/>
<text x="619.6" y="48.5" font-size="9.48" textLength="31.2" lengthAdjust="spacingAndGlyphs">HillBot</text>
<text x="653" y="48.5" font-size="9.9" textLength="6.1" lengthAdjust="spacingAndGlyphs" font-style="italic">η</text>
<text x="661.9" y="44.8" font-size="7.35">†</text>
<text x="619.6" y="62.2" font-size="9.48" textLength="31.2" lengthAdjust="spacingAndGlyphs">HillBot</text>
<text x="652.1" y="62.2" font-size="9.48" textLength="14.2" lengthAdjust="spacingAndGlyphs" font-style="italic">PC</text>
<text x="668.2" y="58.5" font-size="7.35">†</text>
</svg></body></html>
